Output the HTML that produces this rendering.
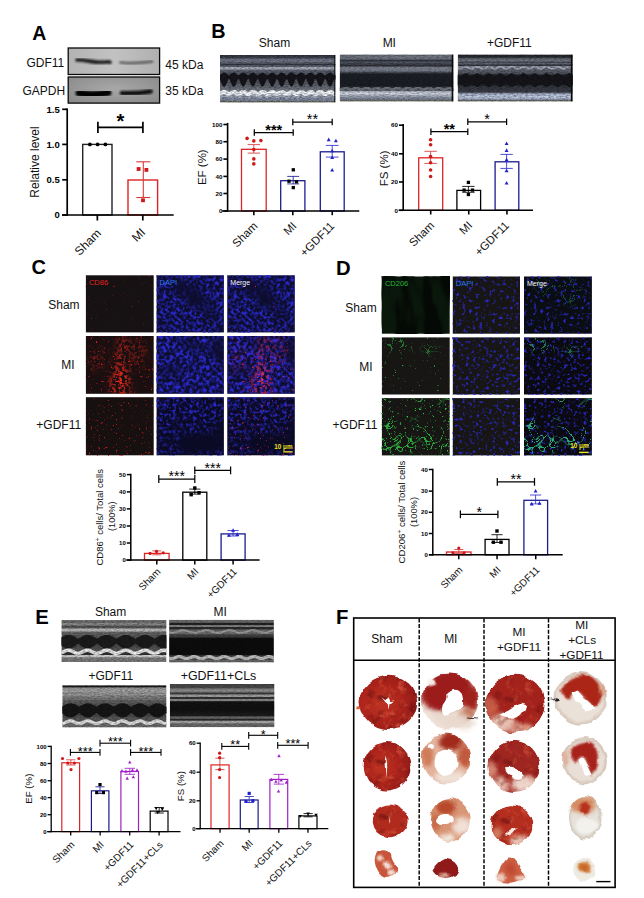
<!DOCTYPE html>
<html><head><meta charset="utf-8"><title>Figure</title>
<style>
html,body{margin:0;padding:0;background:#fff;}
body{width:644px;height:898px;overflow:hidden;font-family:"Liberation Sans", sans-serif;}
svg{display:block;font-family:"Liberation Sans", sans-serif;}
</style></head><body>
<svg width="644" height="898" viewBox="0 0 644 898">
<defs><filter id="bl1" x="-20%" y="-80%" width="140%" height="260%"><feGaussianBlur stdDeviation="1.1 0.9"/></filter><filter id="bl2" x="-20%" y="-80%" width="140%" height="260%"><feGaussianBlur stdDeviation="1.3 1.0"/></filter><linearGradient id="bg1" x1="0" x2="1"><stop offset="0" stop-color="#b3b3b3"/><stop offset=".5" stop-color="#c2c2c2"/><stop offset="1" stop-color="#b0b0b0"/></linearGradient><radialGradient id="bg2" cx=".5" cy=".45" r=".7"><stop offset="0" stop-color="#a8a8a8"/><stop offset="1" stop-color="#8a8a8a"/></radialGradient><filter id="eb" x="-5%" y="-50%" width="110%" height="200%"><feGaussianBlur stdDeviation="0.7 0.6"/></filter><filter id="en1" x="0" y="0" width="100%" height="100%" color-interpolation-filters="sRGB"><feTurbulence type="fractalNoise" baseFrequency="0.35 0.9" numOctaves="2" seed="1"/><feColorMatrix type="matrix" values="0 0 0 0 0  0 0 0 0 0  0 0 0 0 0  2.2 0 0 0 -0.75"/></filter><filter id="en2" x="0" y="0" width="100%" height="100%" color-interpolation-filters="sRGB"><feTurbulence type="fractalNoise" baseFrequency="0.35 0.9" numOctaves="2" seed="2"/><feColorMatrix type="matrix" values="0 0 0 0 0  0 0 0 0 0  0 0 0 0 0  2.2 0 0 0 -0.75"/></filter><filter id="en3" x="0" y="0" width="100%" height="100%" color-interpolation-filters="sRGB"><feTurbulence type="fractalNoise" baseFrequency="0.35 0.9" numOctaves="2" seed="3"/><feColorMatrix type="matrix" values="0 0 0 0 0  0 0 0 0 0  0 0 0 0 0  2.2 0 0 0 -0.75"/></filter><filter id="en4" x="0" y="0" width="100%" height="100%" color-interpolation-filters="sRGB"><feTurbulence type="fractalNoise" baseFrequency="0.35 0.9" numOctaves="2" seed="4"/><feColorMatrix type="matrix" values="0 0 0 0 0  0 0 0 0 0  0 0 0 0 0  2.2 0 0 0 -0.75"/></filter><filter id="en5" x="0" y="0" width="100%" height="100%" color-interpolation-filters="sRGB"><feTurbulence type="fractalNoise" baseFrequency="0.35 0.9" numOctaves="2" seed="5"/><feColorMatrix type="matrix" values="0 0 0 0 0  0 0 0 0 0  0 0 0 0 0  2.2 0 0 0 -0.75"/></filter><filter id="en6" x="0" y="0" width="100%" height="100%" color-interpolation-filters="sRGB"><feTurbulence type="fractalNoise" baseFrequency="0.35 0.9" numOctaves="2" seed="6"/><feColorMatrix type="matrix" values="0 0 0 0 0  0 0 0 0 0  0 0 0 0 0  2.2 0 0 0 -0.75"/></filter><filter id="en7" x="0" y="0" width="100%" height="100%" color-interpolation-filters="sRGB"><feTurbulence type="fractalNoise" baseFrequency="0.35 0.9" numOctaves="2" seed="7"/><feColorMatrix type="matrix" values="0 0 0 0 0  0 0 0 0 0  0 0 0 0 0  2.2 0 0 0 -0.75"/></filter><linearGradient id="eg1" x1="0" y1="0" x2="0" y2="1"><stop offset="0.000" stop-color="#30353f"/><stop offset="0.060" stop-color="#3e444f"/><stop offset="0.090" stop-color="#707686"/><stop offset="0.140" stop-color="#727888"/><stop offset="0.170" stop-color="#505562"/><stop offset="0.240" stop-color="#565c6a"/><stop offset="0.260" stop-color="#a8aebc"/><stop offset="0.290" stop-color="#a8aebc"/><stop offset="0.330" stop-color="#5a6070"/><stop offset="0.420" stop-color="#50545f"/><stop offset="0.600" stop-color="#585c66"/><stop offset="0.700" stop-color="#6a6f79"/><stop offset="0.760" stop-color="#80858f"/><stop offset="0.860" stop-color="#8890a0"/><stop offset="0.960" stop-color="#8088a0"/><stop offset="1.000" stop-color="#2a2a2a"/></linearGradient><linearGradient id="eg2" x1="0" y1="0" x2="0" y2="1"><stop offset="0.000" stop-color="#5a606c"/><stop offset="0.050" stop-color="#747a86"/><stop offset="0.100" stop-color="#6a707c"/><stop offset="0.130" stop-color="#33363f"/><stop offset="0.200" stop-color="#454955"/><stop offset="0.240" stop-color="#2e3038"/><stop offset="0.280" stop-color="#7c8290"/><stop offset="0.350" stop-color="#767c8a"/><stop offset="0.390" stop-color="#3a3d46"/><stop offset="0.420" stop-color="#1e2028"/><stop offset="0.660" stop-color="#1c1e26"/><stop offset="0.700" stop-color="#30323a"/><stop offset="0.760" stop-color="#3c3f48"/><stop offset="0.790" stop-color="#b8c0cc"/><stop offset="0.830" stop-color="#d4dae4"/><stop offset="0.880" stop-color="#a8b0c0"/><stop offset="0.930" stop-color="#7f8899"/><stop offset="0.970" stop-color="#707888"/><stop offset="1.000" stop-color="#222"/></linearGradient><linearGradient id="eg3" x1="0" y1="0" x2="0" y2="1"><stop offset="0.000" stop-color="#202228"/><stop offset="0.060" stop-color="#2c2e36"/><stop offset="0.090" stop-color="#60666f"/><stop offset="0.130" stop-color="#737986"/><stop offset="0.170" stop-color="#4a4e58"/><stop offset="0.200" stop-color="#6a7080"/><stop offset="0.230" stop-color="#24262c"/><stop offset="0.260" stop-color="#9096a4"/><stop offset="0.300" stop-color="#676d7a"/><stop offset="0.400" stop-color="#50545e"/><stop offset="0.460" stop-color="#1a1b21"/><stop offset="0.620" stop-color="#15161c"/><stop offset="0.680" stop-color="#34373f"/><stop offset="0.800" stop-color="#3c3f49"/><stop offset="0.840" stop-color="#aab6d0"/><stop offset="0.900" stop-color="#c4d0e6"/><stop offset="0.950" stop-color="#a0acc8"/><stop offset="1.000" stop-color="#222"/></linearGradient><filter id="mb" x="-30%" y="-30%" width="160%" height="160%"><feGaussianBlur stdDeviation="4"/></filter><filter id="sp1" x="0" y="0" width="100%" height="100%" color-interpolation-filters="sRGB"><feTurbulence type="fractalNoise" baseFrequency="0.4" numOctaves="2" seed="11"/><feColorMatrix type="matrix" values="0 0 0 0 0.690  0 0 0 0 0.094  0 0 0 0 0.094  7 0 0 0 -5.2"/><feGaussianBlur stdDeviation="0.3"/></filter><filter id="sp2" x="0" y="0" width="100%" height="100%" color-interpolation-filters="sRGB"><feTurbulence type="fractalNoise" baseFrequency="0.3" numOctaves="2" seed="21"/><feColorMatrix type="matrix" values="0 0 0 0 0.165  0 0 0 0 0.165  0 0 0 0 0.816  3.1 0 0 0 -1.28" result="f"/><feTurbulence type="fractalNoise" baseFrequency="0.035" numOctaves="2" seed="3"/><feColorMatrix type="matrix" values="0 0 0 0 1  0 0 0 0 1  0 0 0 0 1  3.0 0 0 0 -0.7" result="m"/><feComposite in="f" in2="m" operator="in"/><feGaussianBlur stdDeviation="0.5"/></filter><filter id="sp3" x="0" y="0" width="100%" height="100%" color-interpolation-filters="sRGB"><feTurbulence type="fractalNoise" baseFrequency="0.3" numOctaves="2" seed="21"/><feColorMatrix type="matrix" values="0 0 0 0 0.165  0 0 0 0 0.165  0 0 0 0 0.816  3.1 0 0 0 -1.28" result="f"/><feTurbulence type="fractalNoise" baseFrequency="0.035" numOctaves="2" seed="3"/><feColorMatrix type="matrix" values="0 0 0 0 1  0 0 0 0 1  0 0 0 0 1  3.0 0 0 0 -0.7" result="m"/><feComposite in="f" in2="m" operator="in"/><feGaussianBlur stdDeviation="0.5"/></filter><filter id="sp4" x="0" y="0" width="100%" height="100%" color-interpolation-filters="sRGB"><feTurbulence type="fractalNoise" baseFrequency="0.4" numOctaves="2" seed="11"/><feColorMatrix type="matrix" values="0 0 0 0 0.753  0 0 0 0 0.125  0 0 0 0 0.251  7 0 0 0 -5.4"/><feGaussianBlur stdDeviation="0.3"/></filter><mask id="mm1" maskUnits="userSpaceOnUse" x="0" y="0" width="67.8" height="57.8"><rect width="67.8" height="57.8" fill="#000"/><g filter="url(#mb)"><path d="M33.9 0.0 L42.036 0.0 L40.68 26.009999999999998 L44.748 57.8 L24.407999999999998 57.8 L28.476 31.790000000000003Z" fill="#aaa"/><ellipse cx="33.9" cy="46.24" rx="8.814" ry="13.871999999999998" fill="#fff"/><ellipse cx="10.847999999999999" cy="23.12" rx="6.78" ry="12.716" fill="#555"/><ellipse cx="52.884" cy="17.34" rx="6.78" ry="14.45" fill="#666"/></g></mask><filter id="sp5" x="0" y="0" width="100%" height="100%" color-interpolation-filters="sRGB"><feTurbulence type="fractalNoise" baseFrequency="0.4" numOctaves="2" seed="12"/><feColorMatrix type="matrix" values="0 0 0 0 0.816  0 0 0 0 0.110  0 0 0 0 0.110  7 0 0 0 -4.75"/><feGaussianBlur stdDeviation="0.3"/></filter><filter id="sp6" x="0" y="0" width="100%" height="100%" color-interpolation-filters="sRGB"><feTurbulence type="fractalNoise" baseFrequency="0.3" numOctaves="2" seed="13"/><feColorMatrix type="matrix" values="0 0 0 0 0.933  0 0 0 0 0.165  0 0 0 0 0.118  6 0 0 0 -2.65"/><feGaussianBlur stdDeviation="0.25"/></filter><filter id="sp7" x="0" y="0" width="100%" height="100%" color-interpolation-filters="sRGB"><feTurbulence type="fractalNoise" baseFrequency="0.3" numOctaves="2" seed="22"/><feColorMatrix type="matrix" values="0 0 0 0 0.165  0 0 0 0 0.165  0 0 0 0 0.816  3.1 0 0 0 -1.2" result="f"/><feTurbulence type="fractalNoise" baseFrequency="0.035" numOctaves="2" seed="4"/><feColorMatrix type="matrix" values="0 0 0 0 1  0 0 0 0 1  0 0 0 0 1  3.0 0 0 0 -0.55" result="m"/><feComposite in="f" in2="m" operator="in"/><feGaussianBlur stdDeviation="0.5"/></filter><mask id="mm2" maskUnits="userSpaceOnUse" x="0" y="0" width="67.5" height="57.8"><rect width="67.5" height="57.8" fill="#000"/><g filter="url(#mb)"><path d="M33.75 0.0 L41.85 0.0 L40.5 26.009999999999998 L44.550000000000004 57.8 L24.3 57.8 L28.349999999999998 31.790000000000003Z" fill="#aaa"/><ellipse cx="33.75" cy="46.24" rx="8.775" ry="13.871999999999998" fill="#fff"/><ellipse cx="10.8" cy="23.12" rx="6.75" ry="12.716" fill="#555"/><ellipse cx="52.65" cy="17.34" rx="6.75" ry="14.45" fill="#666"/></g></mask><filter id="sp8" x="0" y="0" width="100%" height="100%" color-interpolation-filters="sRGB"><feTurbulence type="fractalNoise" baseFrequency="0.3" numOctaves="2" seed="22"/><feColorMatrix type="matrix" values="0 0 0 0 0.165  0 0 0 0 0.165  0 0 0 0 0.816  3.1 0 0 0 -1.2" result="f"/><feTurbulence type="fractalNoise" baseFrequency="0.035" numOctaves="2" seed="4"/><feColorMatrix type="matrix" values="0 0 0 0 1  0 0 0 0 1  0 0 0 0 1  3.0 0 0 0 -0.55" result="m"/><feComposite in="f" in2="m" operator="in"/><feGaussianBlur stdDeviation="0.5"/></filter><filter id="sp9" x="0" y="0" width="100%" height="100%" color-interpolation-filters="sRGB"><feTurbulence type="fractalNoise" baseFrequency="0.4" numOctaves="2" seed="12"/><feColorMatrix type="matrix" values="0 0 0 0 0.816  0 0 0 0 0.125  0 0 0 0 0.314  7 0 0 0 -4.9"/><feGaussianBlur stdDeviation="0.3"/></filter><filter id="sp10" x="0" y="0" width="100%" height="100%" color-interpolation-filters="sRGB"><feTurbulence type="fractalNoise" baseFrequency="0.3" numOctaves="2" seed="13"/><feColorMatrix type="matrix" values="0 0 0 0 0.886  0 0 0 0 0.173  0 0 0 0 0.361  6 0 0 0 -2.8"/><feGaussianBlur stdDeviation="0.25"/></filter><filter id="sp11" x="0" y="0" width="100%" height="100%" color-interpolation-filters="sRGB"><feTurbulence type="fractalNoise" baseFrequency="0.4" numOctaves="2" seed="14"/><feColorMatrix type="matrix" values="0 0 0 0 0.784  0 0 0 0 0.110  0 0 0 0 0.110  7 0 0 0 -4.7"/><feGaussianBlur stdDeviation="0.3"/></filter><filter id="sp12" x="0" y="0" width="100%" height="100%" color-interpolation-filters="sRGB"><feTurbulence type="fractalNoise" baseFrequency="0.3" numOctaves="2" seed="23"/><feColorMatrix type="matrix" values="0 0 0 0 0.165  0 0 0 0 0.165  0 0 0 0 0.816  3.1 0 0 0 -1.4" result="f"/><feTurbulence type="fractalNoise" baseFrequency="0.035" numOctaves="2" seed="5"/><feColorMatrix type="matrix" values="0 0 0 0 1  0 0 0 0 1  0 0 0 0 1  3.0 0 0 0 -0.8" result="m"/><feComposite in="f" in2="m" operator="in"/><feGaussianBlur stdDeviation="0.5"/></filter><filter id="sp13" x="0" y="0" width="100%" height="100%" color-interpolation-filters="sRGB"><feTurbulence type="fractalNoise" baseFrequency="0.3" numOctaves="2" seed="23"/><feColorMatrix type="matrix" values="0 0 0 0 0.165  0 0 0 0 0.165  0 0 0 0 0.816  3.1 0 0 0 -1.4" result="f"/><feTurbulence type="fractalNoise" baseFrequency="0.035" numOctaves="2" seed="5"/><feColorMatrix type="matrix" values="0 0 0 0 1  0 0 0 0 1  0 0 0 0 1  3.0 0 0 0 -0.8" result="m"/><feComposite in="f" in2="m" operator="in"/><feGaussianBlur stdDeviation="0.5"/></filter><filter id="sp14" x="0" y="0" width="100%" height="100%" color-interpolation-filters="sRGB"><feTurbulence type="fractalNoise" baseFrequency="0.4" numOctaves="2" seed="14"/><feColorMatrix type="matrix" values="0 0 0 0 0.816  0 0 0 0 0.125  0 0 0 0 0.282  7 0 0 0 -4.8"/><feGaussianBlur stdDeviation="0.3"/></filter><filter id="sp15" x="0" y="0" width="100%" height="100%" color-interpolation-filters="sRGB"><feTurbulence type="fractalNoise" baseFrequency="0.07 0.025" numOctaves="2" seed="31"/><feColorMatrix type="matrix" values="0 0 0 0 0.020  0 0 0 0 0.035  0 0 0 0 0.020  5 0 0 0 -2.0"/><feGaussianBlur stdDeviation="0.6"/></filter><filter id="sp16" x="0" y="0" width="100%" height="100%" color-interpolation-filters="sRGB"><feTurbulence type="fractalNoise" baseFrequency="0.3" numOctaves="2" seed="41"/><feColorMatrix type="matrix" values="0 0 0 0 0.165  0 0 0 0 0.165  0 0 0 0 0.800  4.2 0 0 0 -2.3699999999999997"/><feGaussianBlur stdDeviation="0.45"/></filter><filter id="sp17" x="0" y="0" width="100%" height="100%" color-interpolation-filters="sRGB"><feTurbulence type="fractalNoise" baseFrequency="0.3" numOctaves="2" seed="41"/><feColorMatrix type="matrix" values="0 0 0 0 0.165  0 0 0 0 0.165  0 0 0 0 0.800  4.2 0 0 0 -2.3699999999999997"/><feGaussianBlur stdDeviation="0.45"/></filter><filter id="fl18" x="0" y="0" width="100%" height="100%" color-interpolation-filters="sRGB"><feTurbulence type="turbulence" baseFrequency="0.1" numOctaves="1" seed="35"/><feColorMatrix type="matrix" values="0 0 0 0 0.188  0 0 0 0 0.784  0 0 0 0 0.471  -16 0 0 0 0.6" result="f"/><feTurbulence type="fractalNoise" baseFrequency="0.035" numOctaves="2" seed="8"/><feColorMatrix type="matrix" values="0 0 0 0 1  0 0 0 0 1  0 0 0 0 1  7 0 0 0 -4.0" result="m"/><feComposite in="f" in2="m" operator="in"/><feGaussianBlur stdDeviation="0.3"/></filter><filter id="fl19" x="0" y="0" width="100%" height="100%" color-interpolation-filters="sRGB"><feTurbulence type="turbulence" baseFrequency="0.1" numOctaves="1" seed="32"/><feColorMatrix type="matrix" values="0 0 0 0 0.180  0 0 0 0 0.816  0 0 0 0 0.282  -16 0 0 0 0.5" result="f"/><feTurbulence type="fractalNoise" baseFrequency="0.035" numOctaves="2" seed="5"/><feColorMatrix type="matrix" values="0 0 0 0 1  0 0 0 0 1  0 0 0 0 1  7 0 0 0 -4.45" result="m"/><feComposite in="f" in2="m" operator="in"/><feGaussianBlur stdDeviation="0.3"/></filter><filter id="sp20" x="0" y="0" width="100%" height="100%" color-interpolation-filters="sRGB"><feTurbulence type="fractalNoise" baseFrequency="0.4" numOctaves="2" seed="36"/><feColorMatrix type="matrix" values="0 0 0 0 0.173  0 0 0 0 0.722  0 0 0 0 0.251  8 0 0 0 -5.85"/><feGaussianBlur stdDeviation="0.3"/></filter><filter id="sp21" x="0" y="0" width="100%" height="100%" color-interpolation-filters="sRGB"><feTurbulence type="fractalNoise" baseFrequency="0.3" numOctaves="2" seed="42"/><feColorMatrix type="matrix" values="0 0 0 0 0.165  0 0 0 0 0.165  0 0 0 0 0.800  4.2 0 0 0 -2.27"/><feGaussianBlur stdDeviation="0.45"/></filter><filter id="sp22" x="0" y="0" width="100%" height="100%" color-interpolation-filters="sRGB"><feTurbulence type="fractalNoise" baseFrequency="0.3" numOctaves="2" seed="42"/><feColorMatrix type="matrix" values="0 0 0 0 0.165  0 0 0 0 0.165  0 0 0 0 0.800  4.2 0 0 0 -2.27"/><feGaussianBlur stdDeviation="0.45"/></filter><filter id="fl23" x="0" y="0" width="100%" height="100%" color-interpolation-filters="sRGB"><feTurbulence type="turbulence" baseFrequency="0.1" numOctaves="1" seed="32"/><feColorMatrix type="matrix" values="0 0 0 0 0.204  0 0 0 0 0.847  0 0 0 0 0.502  -16 0 0 0 0.5" result="f"/><feTurbulence type="fractalNoise" baseFrequency="0.035" numOctaves="2" seed="5"/><feColorMatrix type="matrix" values="0 0 0 0 1  0 0 0 0 1  0 0 0 0 1  7 0 0 0 -4.45" result="m"/><feComposite in="f" in2="m" operator="in"/><feGaussianBlur stdDeviation="0.3"/></filter><filter id="fl24" x="0" y="0" width="100%" height="100%" color-interpolation-filters="sRGB"><feTurbulence type="turbulence" baseFrequency="0.1" numOctaves="1" seed="33"/><feColorMatrix type="matrix" values="0 0 0 0 0.204  0 0 0 0 0.863  0 0 0 0 0.298  -14 0 0 0 0.72" result="f"/><feTurbulence type="fractalNoise" baseFrequency="0.035" numOctaves="2" seed="2"/><feColorMatrix type="matrix" values="0 0 0 0 1  0 0 0 0 1  0 0 0 0 1  7 0 0 0 -3.5" result="m"/><feComposite in="f" in2="m" operator="in"/><feGaussianBlur stdDeviation="0.3"/></filter><filter id="sp25" x="0" y="0" width="100%" height="100%" color-interpolation-filters="sRGB"><feTurbulence type="fractalNoise" baseFrequency="0.4" numOctaves="2" seed="37"/><feColorMatrix type="matrix" values="0 0 0 0 0.173  0 0 0 0 0.753  0 0 0 0 0.251  8 0 0 0 -5.3"/><feGaussianBlur stdDeviation="0.3"/></filter><filter id="sp26" x="0" y="0" width="100%" height="100%" color-interpolation-filters="sRGB"><feTurbulence type="fractalNoise" baseFrequency="0.3" numOctaves="2" seed="43"/><feColorMatrix type="matrix" values="0 0 0 0 0.165  0 0 0 0 0.165  0 0 0 0 0.800  4.2 0 0 0 -2.32"/><feGaussianBlur stdDeviation="0.45"/></filter><filter id="sp27" x="0" y="0" width="100%" height="100%" color-interpolation-filters="sRGB"><feTurbulence type="fractalNoise" baseFrequency="0.3" numOctaves="2" seed="43"/><feColorMatrix type="matrix" values="0 0 0 0 0.165  0 0 0 0 0.165  0 0 0 0 0.800  4.2 0 0 0 -2.32"/><feGaussianBlur stdDeviation="0.45"/></filter><filter id="fl28" x="0" y="0" width="100%" height="100%" color-interpolation-filters="sRGB"><feTurbulence type="turbulence" baseFrequency="0.1" numOctaves="1" seed="33"/><feColorMatrix type="matrix" values="0 0 0 0 0.235  0 0 0 0 0.894  0 0 0 0 0.627  -14 0 0 0 0.72" result="f"/><feTurbulence type="fractalNoise" baseFrequency="0.035" numOctaves="2" seed="2"/><feColorMatrix type="matrix" values="0 0 0 0 1  0 0 0 0 1  0 0 0 0 1  7 0 0 0 -3.5" result="m"/><feComposite in="f" in2="m" operator="in"/><feGaussianBlur stdDeviation="0.3"/></filter><linearGradient id="eg4" x1="0" y1="0" x2="0" y2="1"><stop offset="0.000" stop-color="#6a6a6a"/><stop offset="0.060" stop-color="#707070"/><stop offset="0.080" stop-color="#8c8c8c"/><stop offset="0.120" stop-color="#8a8a8a"/><stop offset="0.140" stop-color="#505050"/><stop offset="0.190" stop-color="#5a5a5a"/><stop offset="0.210" stop-color="#c0c0c0"/><stop offset="0.260" stop-color="#bcbcbc"/><stop offset="0.290" stop-color="#686868"/><stop offset="0.360" stop-color="#5c5c5c"/><stop offset="0.500" stop-color="#444"/><stop offset="0.660" stop-color="#505050"/><stop offset="0.710" stop-color="#585858"/><stop offset="0.790" stop-color="#333"/><stop offset="0.830" stop-color="#333"/><stop offset="0.845" stop-color="#d0d0d0"/><stop offset="0.875" stop-color="#cccccc"/><stop offset="0.900" stop-color="#808080"/><stop offset="1.000" stop-color="#7a7a7a"/></linearGradient><linearGradient id="eg5" x1="0" y1="0" x2="0" y2="1"><stop offset="0.000" stop-color="#6e6e6e"/><stop offset="0.060" stop-color="#6a6a6a"/><stop offset="0.080" stop-color="#222"/><stop offset="0.125" stop-color="#242424"/><stop offset="0.135" stop-color="#8a8a8a"/><stop offset="0.165" stop-color="#868686"/><stop offset="0.180" stop-color="#2a2a2a"/><stop offset="0.210" stop-color="#2c2c2c"/><stop offset="0.240" stop-color="#6a6a6a"/><stop offset="0.320" stop-color="#6c6c6c"/><stop offset="0.350" stop-color="#444"/><stop offset="0.400" stop-color="#3a3a3a"/><stop offset="0.440" stop-color="#0d0d0d"/><stop offset="0.810" stop-color="#0c0c0c"/><stop offset="0.840" stop-color="#3a3a3a"/><stop offset="0.930" stop-color="#4a4a4a"/><stop offset="0.950" stop-color="#6a6a6a"/><stop offset="1.000" stop-color="#606060"/></linearGradient><linearGradient id="eg6" x1="0" y1="0" x2="0" y2="1"><stop offset="0.000" stop-color="#1a1a1a"/><stop offset="0.045" stop-color="#1c1c1c"/><stop offset="0.060" stop-color="#9a9a9a"/><stop offset="0.140" stop-color="#a6a6a6"/><stop offset="0.230" stop-color="#9a9a9a"/><stop offset="0.260" stop-color="#848484"/><stop offset="0.330" stop-color="#808080"/><stop offset="0.360" stop-color="#626262"/><stop offset="0.430" stop-color="#5a5a5a"/><stop offset="0.550" stop-color="#3a3a3a"/><stop offset="0.720" stop-color="#4a4a4a"/><stop offset="0.780" stop-color="#585858"/><stop offset="0.830" stop-color="#555"/><stop offset="0.930" stop-color="#6c6c6c"/><stop offset="1.000" stop-color="#707070"/></linearGradient><linearGradient id="eg7" x1="0" y1="0" x2="0" y2="1"><stop offset="0.000" stop-color="#484848"/><stop offset="0.090" stop-color="#4a4a4a"/><stop offset="0.110" stop-color="#7c7c7c"/><stop offset="0.150" stop-color="#909090"/><stop offset="0.190" stop-color="#7a7a7a"/><stop offset="0.205" stop-color="#3a3a3a"/><stop offset="0.235" stop-color="#3a3a3a"/><stop offset="0.250" stop-color="#a0a0a0"/><stop offset="0.295" stop-color="#9c9c9c"/><stop offset="0.310" stop-color="#333"/><stop offset="0.340" stop-color="#333"/><stop offset="0.355" stop-color="#8a8a8a"/><stop offset="0.385" stop-color="#868686"/><stop offset="0.410" stop-color="#131313"/><stop offset="0.600" stop-color="#111"/><stop offset="0.740" stop-color="#1e1e1e"/><stop offset="0.760" stop-color="#6c6c6c"/><stop offset="0.795" stop-color="#6a6a6a"/><stop offset="0.810" stop-color="#2a2a2a"/><stop offset="0.840" stop-color="#2a2a2a"/><stop offset="0.855" stop-color="#a8a8a8"/><stop offset="0.900" stop-color="#a4a4a4"/><stop offset="0.920" stop-color="#6a6a6a"/><stop offset="1.000" stop-color="#666"/></linearGradient><filter id="hd" x="-15%" y="-15%" width="130%" height="130%" color-interpolation-filters="sRGB"><feTurbulence type="fractalNoise" baseFrequency="0.09" numOctaves="2" seed="3" result="n"/><feDisplacementMap in="SourceGraphic" in2="n" scale="5" xChannelSelector="R" yChannelSelector="G"/><feGaussianBlur stdDeviation="0.7"/></filter><filter id="hb" x="-30%" y="-30%" width="160%" height="160%"><feGaussianBlur stdDeviation="2.2"/></filter><filter id="hb1" x="-30%" y="-30%" width="160%" height="160%"><feGaussianBlur stdDeviation="1.1"/></filter><filter id="ht" x="0" y="0" width="100%" height="100%" color-interpolation-filters="sRGB"><feTurbulence type="fractalNoise" baseFrequency="0.11" numOctaves="3" seed="9"/><feColorMatrix type="matrix" values="0 0 0 0 .93  0 0 0 0 .42  0 0 0 0 .28  4.2 0 0 0 -2.3"/><feComposite in2="SourceGraphic" operator="in"/></filter><filter id="hs" x="0" y="0" width="100%" height="100%" color-interpolation-filters="sRGB"><feTurbulence type="fractalNoise" baseFrequency="0.09" numOctaves="3" seed="4"/><feColorMatrix type="matrix" values="0 0 0 0 .40  0 0 0 0 .06  0 0 0 0 .06  -4.2 0 0 0 1.9"/><feComposite in2="SourceGraphic" operator="in"/></filter><radialGradient id="hr1" cx=".38" cy=".5" r=".65"><stop offset="0" stop-color="#c03422"/><stop offset=".55" stop-color="#ab231b"/><stop offset="1" stop-color="#8e1a18"/></radialGradient><radialGradient id="hr2" cx=".5" cy=".5" r=".6"><stop offset="0" stop-color="#c64a34"/><stop offset="1" stop-color="#b8331f"/></radialGradient></defs>
<rect width="644" height="898" fill="#fff"/>
<text x="32.2" y="40" font-size="19.5" text-anchor="start" font-weight="bold" fill="#000">A</text>
<text x="211.2" y="38.3" font-size="19.8" text-anchor="start" font-weight="bold" fill="#000">B</text>
<text x="31.5" y="274" font-size="20" text-anchor="start" font-weight="bold" fill="#000">C</text>
<text x="335.9" y="275.4" font-size="20.3" text-anchor="start" font-weight="bold" fill="#000">D</text>
<text x="35.3" y="623.9" font-size="20.3" text-anchor="start" font-weight="bold" fill="#000">E</text>
<text x="336.1" y="623.9" font-size="20.3" text-anchor="start" font-weight="bold" fill="#000">F</text>
<text x="64.3" y="67.1" font-size="12" text-anchor="end" font-weight="normal" fill="#111">GDF11</text>
<text x="65.2" y="95.3" font-size="12" text-anchor="end" font-weight="normal" fill="#111">GAPDH</text>
<text x="165.3" y="69" font-size="12" text-anchor="start" font-weight="normal" fill="#111">45 kDa</text>
<text x="165.3" y="94.5" font-size="12" text-anchor="start" font-weight="normal" fill="#111">35 kDa</text>
<rect x="68.2" y="48" width="91.4" height="26.5" fill="url(#bg1)"/><rect x="68.2" y="77" width="91.4" height="26.1" fill="url(#bg2)"/><clipPath id="cb1"><rect x="68.2" y="48" width="91.4" height="26.5"/></clipPath><clipPath id="cb2"><rect x="68.2" y="77" width="91.4" height="26.1"/></clipPath><g clip-path="url(#cb1)"><path d="M77 60 C85 59.5 92 62.5 100 62.3 S108 61.5 110 62.2" stroke="#1c1c1c" stroke-width="3.6" stroke-linecap="round" fill="none" filter="url(#bl1)"/><path d="M120.5 62.5 C130 63.5 142 63 152 61.6" stroke="#5e5e5e" stroke-width="2.6" stroke-linecap="round" fill="none" filter="url(#bl1)"/></g><g clip-path="url(#cb2)"><path d="M79 93 C88 95 100 94.5 108 92.5" stroke="#050505" stroke-width="7.0" stroke-linecap="round" fill="none" filter="url(#bl2)"/><path d="M122 93.2 C132 93.6 142 92.8 150.5 91.4" stroke="#0c0c0c" stroke-width="4.6" stroke-linecap="round" fill="none" filter="url(#bl2)"/></g><rect x="68.2" y="48" width="91.4" height="26.5" fill="none" stroke="#0a0a0a" stroke-width="1.3"/><rect x="68.2" y="77" width="91.4" height="26.1" fill="none" stroke="#0a0a0a" stroke-width="1.3"/>
<rect x="82.70" y="144.40" width="29.30" height="70.60" fill="#fff" stroke="#222" stroke-width="1.4"/>
<rect x="128.00" y="180.00" width="29.60" height="35.00" fill="#fff" stroke="#dc2424" stroke-width="1.4"/>
<line x1="67.20" y1="108.45" x2="67.20" y2="215.85" stroke="#000" stroke-width="1.7"/>
<line x1="62.00" y1="215.00" x2="173.70" y2="215.00" stroke="#000" stroke-width="1.7"/>
<line x1="62.20" y1="109.30" x2="67.20" y2="109.30" stroke="#000" stroke-width="1.7"/>
<text x="59.7" y="112.72" font-size="9.5" text-anchor="end" font-weight="bold" fill="#000">1.5</text>
<line x1="62.20" y1="144.40" x2="67.20" y2="144.40" stroke="#000" stroke-width="1.7"/>
<text x="59.7" y="147.82" font-size="9.5" text-anchor="end" font-weight="bold" fill="#000">1.0</text>
<line x1="62.20" y1="179.80" x2="67.20" y2="179.80" stroke="#000" stroke-width="1.7"/>
<text x="59.7" y="183.22" font-size="9.5" text-anchor="end" font-weight="bold" fill="#000">0.5</text>
<line x1="62.20" y1="215.00" x2="67.20" y2="215.00" stroke="#000" stroke-width="1.7"/>
<text x="59.7" y="218.42" font-size="9.5" text-anchor="end" font-weight="bold" fill="#000">0</text>
<line x1="97.35" y1="215.00" x2="97.35" y2="220.50" stroke="#000" stroke-width="1.7"/>
<circle cx="89.90" cy="144.40" r="1.90" fill="#000"/>
<circle cx="97.60" cy="144.40" r="1.90" fill="#000"/>
<circle cx="105.40" cy="144.40" r="1.90" fill="#000"/>
<text x="101.75" y="234" font-size="12" text-anchor="end" font-weight="normal" fill="#111" transform="rotate(-45 101.75 234)">Sham</text>
<line x1="142.80" y1="215.00" x2="142.80" y2="220.50" stroke="#000" stroke-width="1.7"/>
<line x1="143.30" y1="161.80" x2="143.30" y2="197.50" stroke="#d43a3a" stroke-width="1.1"/>
<line x1="136.30" y1="161.80" x2="150.30" y2="161.80" stroke="#d43a3a" stroke-width="1.1"/>
<line x1="136.30" y1="197.50" x2="150.30" y2="197.50" stroke="#d43a3a" stroke-width="1.1"/>
<rect x="136.70" y="167.10" width="3.80" height="3.80" fill="#cf1818"/>
<rect x="144.50" y="168.00" width="3.80" height="3.80" fill="#cf1818"/>
<rect x="141.10" y="198.40" width="3.80" height="3.80" fill="#cf1818"/>
<text x="146.20000000000002" y="233" font-size="12" text-anchor="end" font-weight="normal" fill="#111" transform="rotate(-45 146.20000000000002 233)">MI</text>
<text x="39" y="162" font-size="12" text-anchor="middle" font-weight="normal" fill="#111" transform="rotate(-90 39 162)">Relative level</text>
<line x1="97.90" y1="127.40" x2="142.90" y2="127.40" stroke="#000" stroke-width="1.7"/>
<line x1="97.90" y1="121.70" x2="97.90" y2="133.10" stroke="#000" stroke-width="1.7"/>
<line x1="142.90" y1="121.70" x2="142.90" y2="133.10" stroke="#000" stroke-width="1.7"/>
<text x="120.4" y="128.3" font-size="20" text-anchor="middle" font-weight="bold" fill="#000">*</text>
<text x="274.5" y="47.1" font-size="12" text-anchor="middle" font-weight="normal" fill="#111">Sham</text>
<text x="389.3" y="47.1" font-size="12" text-anchor="middle" font-weight="normal" fill="#111">MI</text>
<text x="509.4" y="47.1" font-size="12" text-anchor="middle" font-weight="normal" fill="#111">+GDF11</text>
<clipPath id="ec1"><rect x="220" y="55" width="115.5" height="47.5"/></clipPath><g clip-path="url(#ec1)"><rect x="220" y="55" width="115.5" height="47.5" fill="url(#eg1)"/><path d="M218.0 74.6 L219.0 75.3 L220.0 74.9 L221.0 74.1 L222.0 73.4 L223.0 72.8 L224.0 72.6 L225.0 72.8 L226.0 73.3 L227.0 74.1 L228.0 74.9 L229.0 75.3 L230.0 74.6 L231.0 73.8 L232.0 73.1 L233.0 72.7 L234.0 72.6 L235.0 72.9 L236.0 73.6 L237.0 74.4 L238.0 75.1 L239.0 75.1 L240.0 74.3 L241.0 73.5 L242.0 72.9 L243.0 72.6 L244.0 72.7 L245.0 73.1 L246.0 73.8 L247.0 74.7 L248.0 75.4 L249.0 74.8 L250.0 74.0 L251.0 73.3 L252.0 72.8 L253.0 72.6 L254.0 72.8 L255.0 73.4 L256.0 74.2 L257.0 75.0 L258.0 75.3 L259.0 74.5 L260.0 73.7 L261.0 73.0 L262.0 72.7 L263.0 72.6 L264.0 73.0 L265.0 73.7 L266.0 74.5 L267.0 75.2 L268.0 75.0 L269.0 74.2 L270.0 73.4 L271.0 72.9 L272.0 72.6 L273.0 72.7 L274.0 73.2 L275.0 73.9 L276.0 74.8 L277.0 75.4 L278.0 74.7 L279.0 73.9 L280.0 73.2 L281.0 72.7 L282.0 72.6 L283.0 72.9 L284.0 73.5 L285.0 74.3 L286.0 75.1 L287.0 75.2 L288.0 74.4 L289.0 73.6 L290.0 73.0 L291.0 72.6 L292.0 72.7 L293.0 73.1 L294.0 73.7 L295.0 74.6 L296.0 75.3 L297.0 74.9 L298.0 74.1 L299.0 73.4 L300.0 72.8 L301.0 72.6 L302.0 72.8 L303.0 73.3 L304.0 74.1 L305.0 74.9 L306.0 75.3 L307.0 74.6 L308.0 73.8 L309.0 73.1 L310.0 72.7 L311.0 72.6 L312.0 72.9 L313.0 73.6 L314.0 74.4 L315.0 75.1 L316.0 75.1 L317.0 74.3 L318.0 73.5 L319.0 72.9 L320.0 72.6 L321.0 72.7 L322.0 73.1 L323.0 73.8 L324.0 74.7 L325.0 75.4 L326.0 74.8 L327.0 74.0 L328.0 73.3 L329.0 72.8 L330.0 72.6 L331.0 72.8 L332.0 73.4 L333.0 74.2 L334.0 75.0 L335.0 75.3 L336.0 74.5 L337.0 73.7 L337.0 83.4 L336.0 80.9 L335.0 78.7 L334.0 79.6 L333.0 82.1 L332.0 84.4 L331.0 86.1 L330.0 86.7 L329.0 86.3 L328.0 84.7 L327.0 82.5 L326.0 80.0 L325.0 78.5 L324.0 80.5 L323.0 83.0 L322.0 85.1 L321.0 86.5 L320.0 86.7 L319.0 85.8 L318.0 83.9 L317.0 81.5 L316.0 79.2 L315.0 79.1 L314.0 81.5 L313.0 83.9 L312.0 85.8 L311.0 86.7 L310.0 86.5 L309.0 85.2 L308.0 83.1 L307.0 80.6 L306.0 78.5 L305.0 79.9 L304.0 82.4 L303.0 84.7 L302.0 86.2 L301.0 86.7 L300.0 86.1 L299.0 84.5 L298.0 82.2 L297.0 79.7 L296.0 78.6 L295.0 80.8 L294.0 83.3 L293.0 85.4 L292.0 86.6 L291.0 86.6 L290.0 85.6 L289.0 83.7 L288.0 81.2 L287.0 78.9 L286.0 79.4 L285.0 81.8 L284.0 84.2 L283.0 85.9 L282.0 86.7 L281.0 86.4 L280.0 85.0 L279.0 82.8 L278.0 80.3 L277.0 78.4 L276.0 80.2 L275.0 82.7 L274.0 84.9 L273.0 86.4 L272.0 86.7 L271.0 86.0 L270.0 84.2 L269.0 81.9 L268.0 79.4 L267.0 78.9 L266.0 81.1 L265.0 83.6 L264.0 85.6 L263.0 86.6 L262.0 86.6 L261.0 85.4 L260.0 83.4 L259.0 80.9 L258.0 78.7 L257.0 79.6 L256.0 82.1 L255.0 84.4 L254.0 86.1 L253.0 86.7 L252.0 86.3 L251.0 84.7 L250.0 82.5 L249.0 80.0 L248.0 78.5 L247.0 80.5 L246.0 83.0 L245.0 85.1 L244.0 86.5 L243.0 86.7 L242.0 85.8 L241.0 83.9 L240.0 81.5 L239.0 79.2 L238.0 79.1 L237.0 81.5 L236.0 83.9 L235.0 85.8 L234.0 86.7 L233.0 86.5 L232.0 85.2 L231.0 83.1 L230.0 80.6 L229.0 78.5 L228.0 79.9 L227.0 82.4 L226.0 84.7 L225.0 86.2 L224.0 86.7 L223.0 86.1 L222.0 84.5 L221.0 82.2 L220.0 79.7 L219.0 78.6 L218.0 80.8Z" fill="#17191f" filter="url(#eb)"/><rect x="220" y="64.03" width="115.5" height="0.95" fill="#2a2d36" opacity="0.7"/><path d="M218.0 93.7 L219.0 94.1 L220.0 94.0 L221.0 93.5 L222.0 92.8 L223.0 92.2 L224.0 91.9 L225.0 92.1 L226.0 92.6 L227.0 93.3 L228.0 93.9 L229.0 94.1 L230.0 93.9 L231.0 93.3 L232.0 92.6 L233.0 92.0 L234.0 91.9 L235.0 92.2 L236.0 92.9 L237.0 93.6 L238.0 94.0 L239.0 94.1 L240.0 93.7 L241.0 93.0 L242.0 92.3 L243.0 91.9 L244.0 92.0 L245.0 92.4 L246.0 93.1 L247.0 93.8 L248.0 94.1 L249.0 94.0 L250.0 93.4 L251.0 92.7 L252.0 92.1 L253.0 91.9 L254.0 92.1 L255.0 92.7 L256.0 93.4 L257.0 93.9 L258.0 94.1 L259.0 93.8 L260.0 93.2 L261.0 92.5 L262.0 92.0 L263.0 91.9 L264.0 92.3 L265.0 93.0 L266.0 93.6 L267.0 94.0 L268.0 94.0 L269.0 93.6 L270.0 92.9 L271.0 92.3 L272.0 91.9 L273.0 92.0 L274.0 92.5 L275.0 93.2 L276.0 93.8 L277.0 94.1 L278.0 93.9 L279.0 93.4 L280.0 92.6 L281.0 92.1 L282.0 91.9 L283.0 92.2 L284.0 92.8 L285.0 93.5 L286.0 94.0 L287.0 94.1 L288.0 93.7 L289.0 93.1 L290.0 92.4 L291.0 92.0 L292.0 92.0 L293.0 92.4 L294.0 93.0 L295.0 93.7 L296.0 94.1 L297.0 94.0 L298.0 93.5 L299.0 92.8 L300.0 92.2 L301.0 91.9 L302.0 92.1 L303.0 92.6 L304.0 93.3 L305.0 93.9 L306.0 94.1 L307.0 93.9 L308.0 93.3 L309.0 92.6 L310.0 92.0 L311.0 91.9 L312.0 92.2 L313.0 92.9 L314.0 93.6 L315.0 94.0 L316.0 94.1 L317.0 93.7 L318.0 93.0 L319.0 92.3 L320.0 91.9 L321.0 92.0 L322.0 92.4 L323.0 93.1 L324.0 93.8 L325.0 94.1 L326.0 94.0 L327.0 93.4 L328.0 92.7 L329.0 92.1 L330.0 91.9 L331.0 92.1 L332.0 92.7 L333.0 93.4 L334.0 93.9 L335.0 94.1 L336.0 93.8 L337.0 93.2" fill="none" stroke="#f4f7fc" stroke-width="4.04" filter="url(#eb)" opacity="1"/><path d="M218.0 97.0 L219.0 97.3 L220.0 97.2 L221.0 96.8 L222.0 96.2 L223.0 95.6 L224.0 95.3 L225.0 95.5 L226.0 96.0 L227.0 96.6 L228.0 97.1 L229.0 97.3 L230.0 97.1 L231.0 96.6 L232.0 95.9 L233.0 95.5 L234.0 95.3 L235.0 95.6 L236.0 96.2 L237.0 96.8 L238.0 97.3 L239.0 97.3 L240.0 96.9 L241.0 96.3 L242.0 95.7 L243.0 95.4 L244.0 95.4 L245.0 95.8 L246.0 96.4 L247.0 97.0 L248.0 97.3 L249.0 97.2 L250.0 96.7 L251.0 96.1 L252.0 95.5 L253.0 95.3 L254.0 95.5 L255.0 96.0 L256.0 96.7 L257.0 97.2 L258.0 97.3 L259.0 97.1 L260.0 96.5 L261.0 95.9 L262.0 95.4 L263.0 95.4 L264.0 95.7 L265.0 96.3 L266.0 96.9 L267.0 97.3 L268.0 97.3 L269.0 96.9 L270.0 96.2 L271.0 95.7 L272.0 95.3 L273.0 95.4 L274.0 95.9 L275.0 96.5 L276.0 97.1 L277.0 97.3 L278.0 97.2 L279.0 96.6 L280.0 96.0 L281.0 95.5 L282.0 95.3 L283.0 95.6 L284.0 96.1 L285.0 96.8 L286.0 97.2 L287.0 97.3 L288.0 97.0 L289.0 96.4 L290.0 95.8 L291.0 95.4 L292.0 95.4 L293.0 95.8 L294.0 96.4 L295.0 97.0 L296.0 97.3 L297.0 97.2 L298.0 96.8 L299.0 96.2 L300.0 95.6 L301.0 95.3 L302.0 95.5 L303.0 96.0 L304.0 96.6 L305.0 97.1 L306.0 97.3 L307.0 97.1 L308.0 96.6 L309.0 95.9 L310.0 95.5 L311.0 95.3 L312.0 95.6 L313.0 96.2 L314.0 96.8 L315.0 97.3 L316.0 97.3 L317.0 96.9 L318.0 96.3 L319.0 95.7 L320.0 95.4 L321.0 95.4 L322.0 95.8 L323.0 96.4 L324.0 97.0 L325.0 97.3 L326.0 97.2 L327.0 96.7 L328.0 96.1 L329.0 95.5 L330.0 95.3 L331.0 95.5 L332.0 96.0 L333.0 96.7 L334.0 97.2 L335.0 97.3 L336.0 97.1 L337.0 96.5" fill="none" stroke="#b8c0d0" stroke-width="1.90" filter="url(#eb)" opacity="0.6"/><rect x="220" y="55" width="115.5" height="47.5" filter="url(#en1)" opacity="0.35"/><line x1="220" y1="101.9" x2="335.5" y2="101.9" stroke="#c8c04a" stroke-width="0.8" stroke-dasharray="0.8 1.6" opacity=".8"/><rect x="334.3" y="55" width="1.2" height="47.5" fill="#0a0a0c"/></g>
<clipPath id="ec2"><rect x="339.7" y="54.4" width="113.8" height="47.1"/></clipPath><g clip-path="url(#ec2)"><rect x="339.7" y="54.4" width="113.8" height="47.1" fill="url(#eg2)"/><rect x="339.7" y="61.70" width="113.8" height="0.85" fill="#80868f" opacity="0.6"/><path d="M337.7 88.4 L338.7 89.3 L339.7 89.6 L340.7 89.7 L341.7 89.6 L342.7 89.2 L343.7 88.4 L344.7 88.0 L345.7 87.9 L346.7 88.0 L347.7 88.3 L348.7 89.1 L349.7 89.5 L350.7 89.7 L351.7 89.6 L352.7 89.4 L353.7 88.6 L354.7 88.1 L355.7 87.9 L356.7 87.9 L357.7 88.1 L358.7 88.7 L359.7 89.4 L360.7 89.6 L361.7 89.7 L362.7 89.5 L363.7 89.0 L364.7 88.2 L365.7 87.9 L366.7 87.9 L367.7 88.0 L368.7 88.4 L369.7 89.3 L370.7 89.6 L371.7 89.7 L372.7 89.6 L373.7 89.2 L374.7 88.4 L375.7 88.0 L376.7 87.9 L377.7 88.0 L378.7 88.2 L379.7 89.1 L380.7 89.5 L381.7 89.7 L382.7 89.6 L383.7 89.4 L384.7 88.6 L385.7 88.1 L386.7 87.9 L387.7 87.9 L388.7 88.1 L389.7 88.6 L390.7 89.4 L391.7 89.6 L392.7 89.7 L393.7 89.5 L394.7 89.1 L395.7 88.2 L396.7 88.0 L397.7 87.9 L398.7 88.0 L399.7 88.4 L400.7 89.3 L401.7 89.6 L402.7 89.7 L403.7 89.6 L404.7 89.3 L405.7 88.4 L406.7 88.0 L407.7 87.9 L408.7 87.9 L409.7 88.2 L410.7 89.1 L411.7 89.5 L412.7 89.7 L413.7 89.6 L414.7 89.4 L415.7 88.7 L416.7 88.1 L417.7 87.9 L418.7 87.9 L419.7 88.1 L420.7 88.6 L421.7 89.4 L422.7 89.6 L423.7 89.7 L424.7 89.5 L425.7 89.1 L426.7 88.2 L427.7 88.0 L428.7 87.9 L429.7 88.0 L430.7 88.4 L431.7 89.2 L432.7 89.6 L433.7 89.7 L434.7 89.6 L435.7 89.3 L436.7 88.4 L437.7 88.0 L438.7 87.9 L439.7 87.9 L440.7 88.2 L441.7 89.0 L442.7 89.5 L443.7 89.7 L444.7 89.6 L445.7 89.4 L446.7 88.7 L447.7 88.1 L448.7 87.9 L449.7 87.9 L450.7 88.1 L451.7 88.6 L452.7 89.4 L453.7 89.6 L454.7 89.7" fill="none" stroke="#70747e" stroke-width="2.83" filter="url(#eb)" opacity="1"/><rect x="339.7" y="54.4" width="113.8" height="47.1" filter="url(#en2)" opacity="0.3"/><line x1="339.7" y1="100.9" x2="453.5" y2="100.9" stroke="#c8c04a" stroke-width="0.8" stroke-dasharray="0.8 1.6" opacity=".8"/><rect x="451.7" y="54.4" width="1.8" height="47.1" fill="#0a0a0c"/></g>
<clipPath id="ec3"><rect x="457.7" y="54.4" width="115" height="47.1"/></clipPath><g clip-path="url(#ec3)"><rect x="457.7" y="54.4" width="115" height="47.1" fill="url(#eg3)"/><path d="M455.7 73.7 L456.7 74.3 L457.7 75.1 L458.7 75.7 L459.7 76.0 L460.7 76.0 L461.7 75.5 L462.7 74.8 L463.7 74.1 L464.7 73.5 L465.7 73.3 L466.7 73.4 L467.7 74.0 L468.7 74.7 L469.7 75.4 L470.7 75.9 L471.7 76.0 L472.7 75.8 L473.7 75.2 L474.7 74.4 L475.7 73.7 L476.7 73.3 L477.7 73.3 L478.7 73.7 L479.7 74.3 L480.7 75.1 L481.7 75.7 L482.7 76.0 L483.7 76.0 L484.7 75.5 L485.7 74.8 L486.7 74.1 L487.7 73.5 L488.7 73.3 L489.7 73.4 L490.7 74.0 L491.7 74.7 L492.7 75.4 L493.7 75.9 L494.7 76.0 L495.7 75.8 L496.7 75.2 L497.7 74.4 L498.7 73.7 L499.7 73.3 L500.7 73.3 L501.7 73.7 L502.7 74.3 L503.7 75.1 L504.7 75.7 L505.7 76.0 L506.7 76.0 L507.7 75.5 L508.7 74.8 L509.7 74.1 L510.7 73.5 L511.7 73.3 L512.7 73.4 L513.7 74.0 L514.7 74.7 L515.7 75.4 L516.7 75.9 L517.7 76.0 L518.7 75.8 L519.7 75.2 L520.7 74.4 L521.7 73.7 L522.7 73.3 L523.7 73.3 L524.7 73.7 L525.7 74.3 L526.7 75.1 L527.7 75.7 L528.7 76.0 L529.7 76.0 L530.7 75.5 L531.7 74.8 L532.7 74.1 L533.7 73.5 L534.7 73.3 L535.7 73.4 L536.7 74.0 L537.7 74.7 L538.7 75.4 L539.7 75.9 L540.7 76.0 L541.7 75.8 L542.7 75.2 L543.7 74.4 L544.7 73.7 L545.7 73.3 L546.7 73.3 L547.7 73.7 L548.7 74.3 L549.7 75.1 L550.7 75.7 L551.7 76.0 L552.7 76.0 L553.7 75.5 L554.7 74.8 L555.7 74.1 L556.7 73.5 L557.7 73.3 L558.7 73.4 L559.7 74.0 L560.7 74.7 L561.7 75.4 L562.7 75.9 L563.7 76.0 L564.7 75.8 L565.7 75.2 L566.7 74.4 L567.7 73.7 L568.7 73.3 L569.7 73.3 L570.7 73.7 L571.7 74.3 L572.7 75.1 L573.7 75.7 L574.7 76.0 L574.7 83.9 L573.7 84.3 L572.7 85.0 L571.7 85.9 L570.7 86.6 L569.7 87.0 L568.7 87.0 L567.7 86.5 L566.7 85.7 L565.7 84.9 L564.7 84.2 L563.7 83.9 L562.7 84.0 L561.7 84.6 L560.7 85.4 L559.7 86.3 L558.7 86.9 L557.7 87.1 L556.7 86.8 L555.7 86.2 L554.7 85.3 L553.7 84.5 L552.7 84.0 L551.7 83.9 L550.7 84.3 L549.7 85.0 L548.7 85.9 L547.7 86.6 L546.7 87.0 L545.7 87.0 L544.7 86.5 L543.7 85.7 L542.7 84.9 L541.7 84.2 L540.7 83.9 L539.7 84.0 L538.7 84.6 L537.7 85.4 L536.7 86.3 L535.7 86.9 L534.7 87.1 L533.7 86.8 L532.7 86.2 L531.7 85.3 L530.7 84.5 L529.7 84.0 L528.7 83.9 L527.7 84.3 L526.7 85.0 L525.7 85.9 L524.7 86.6 L523.7 87.0 L522.7 87.0 L521.7 86.5 L520.7 85.7 L519.7 84.9 L518.7 84.2 L517.7 83.9 L516.7 84.0 L515.7 84.6 L514.7 85.4 L513.7 86.3 L512.7 86.9 L511.7 87.1 L510.7 86.8 L509.7 86.2 L508.7 85.3 L507.7 84.5 L506.7 84.0 L505.7 83.9 L504.7 84.3 L503.7 85.0 L502.7 85.9 L501.7 86.6 L500.7 87.0 L499.7 87.0 L498.7 86.5 L497.7 85.7 L496.7 84.9 L495.7 84.2 L494.7 83.9 L493.7 84.0 L492.7 84.6 L491.7 85.4 L490.7 86.3 L489.7 86.9 L488.7 87.1 L487.7 86.8 L486.7 86.2 L485.7 85.3 L484.7 84.5 L483.7 84.0 L482.7 83.9 L481.7 84.3 L480.7 85.0 L479.7 85.9 L478.7 86.6 L477.7 87.0 L476.7 87.0 L475.7 86.5 L474.7 85.7 L473.7 84.9 L472.7 84.2 L471.7 83.9 L470.7 84.0 L469.7 84.6 L468.7 85.4 L467.7 86.3 L466.7 86.9 L465.7 87.1 L464.7 86.8 L463.7 86.2 L462.7 85.3 L461.7 84.5 L460.7 84.0 L459.7 83.9 L458.7 84.3 L457.7 85.0 L456.7 85.9 L455.7 86.6Z" fill="#14151a" filter="url(#eb)"/><path d="M455.7 67.0 L456.7 67.6 L457.7 68.1 L458.7 68.6 L459.7 68.9 L460.7 68.8 L461.7 68.5 L462.7 67.9 L463.7 67.4 L464.7 66.9 L465.7 66.7 L466.7 66.9 L467.7 67.3 L468.7 67.9 L469.7 68.4 L470.7 68.8 L471.7 68.9 L472.7 68.7 L473.7 68.2 L474.7 67.6 L475.7 67.1 L476.7 66.8 L477.7 66.8 L478.7 67.0 L479.7 67.6 L480.7 68.1 L481.7 68.6 L482.7 68.9 L483.7 68.8 L484.7 68.5 L485.7 67.9 L486.7 67.4 L487.7 66.9 L488.7 66.7 L489.7 66.9 L490.7 67.3 L491.7 67.9 L492.7 68.4 L493.7 68.8 L494.7 68.9 L495.7 68.7 L496.7 68.2 L497.7 67.6 L498.7 67.1 L499.7 66.8 L500.7 66.8 L501.7 67.0 L502.7 67.6 L503.7 68.1 L504.7 68.6 L505.7 68.9 L506.7 68.8 L507.7 68.5 L508.7 67.9 L509.7 67.4 L510.7 66.9 L511.7 66.7 L512.7 66.9 L513.7 67.3 L514.7 67.9 L515.7 68.4 L516.7 68.8 L517.7 68.9 L518.7 68.7 L519.7 68.2 L520.7 67.6 L521.7 67.1 L522.7 66.8 L523.7 66.8 L524.7 67.0 L525.7 67.6 L526.7 68.1 L527.7 68.6 L528.7 68.9 L529.7 68.8 L530.7 68.5 L531.7 67.9 L532.7 67.4 L533.7 66.9 L534.7 66.7 L535.7 66.9 L536.7 67.3 L537.7 67.9 L538.7 68.4 L539.7 68.8 L540.7 68.9 L541.7 68.7 L542.7 68.2 L543.7 67.6 L544.7 67.1 L545.7 66.8 L546.7 66.8 L547.7 67.0 L548.7 67.6 L549.7 68.1 L550.7 68.6 L551.7 68.9 L552.7 68.8 L553.7 68.5 L554.7 67.9 L555.7 67.4 L556.7 66.9 L557.7 66.7 L558.7 66.9 L559.7 67.3 L560.7 67.9 L561.7 68.4 L562.7 68.8 L563.7 68.9 L564.7 68.7 L565.7 68.2 L566.7 67.6 L567.7 67.1 L568.7 66.8 L569.7 66.8 L570.7 67.0 L571.7 67.6 L572.7 68.1 L573.7 68.6 L574.7 68.9" fill="none" stroke="#b0b6c4" stroke-width="1.65" filter="url(#eb)" opacity="0.85"/><rect x="457.7" y="54.4" width="115" height="47.1" filter="url(#en3)" opacity="0.35"/><line x1="457.7" y1="100.9" x2="572.7" y2="100.9" stroke="#c8c04a" stroke-width="0.8" stroke-dasharray="0.8 1.6" opacity=".8"/><rect x="570.9000000000001" y="54.4" width="1.8" height="47.1" fill="#0a0a0c"/></g>
<rect x="241.50" y="149.30" width="24.70" height="61.70" fill="#fff" stroke="#dc2424" stroke-width="1.3"/>
<rect x="280.70" y="180.70" width="24.20" height="30.30" fill="#fff" stroke="#1c1c92" stroke-width="1.3"/>
<rect x="320.30" y="151.80" width="23.90" height="59.20" fill="#fff" stroke="#1c1c92" stroke-width="1.3"/>
<line x1="227.60" y1="122.90" x2="227.60" y2="211.80" stroke="#000" stroke-width="1.6"/>
<line x1="222.00" y1="211.00" x2="359.30" y2="211.00" stroke="#000" stroke-width="1.6"/>
<line x1="223.40" y1="124.50" x2="227.60" y2="124.50" stroke="#000" stroke-width="1.6"/>
<text x="222.4" y="126.732" font-size="6.2" text-anchor="end" font-weight="bold" fill="#000">100</text>
<line x1="223.40" y1="141.70" x2="227.60" y2="141.70" stroke="#000" stroke-width="1.6"/>
<text x="222.4" y="143.932" font-size="6.2" text-anchor="end" font-weight="bold" fill="#000">80</text>
<line x1="223.40" y1="159.10" x2="227.60" y2="159.10" stroke="#000" stroke-width="1.6"/>
<text x="222.4" y="161.332" font-size="6.2" text-anchor="end" font-weight="bold" fill="#000">60</text>
<line x1="223.40" y1="176.40" x2="227.60" y2="176.40" stroke="#000" stroke-width="1.6"/>
<text x="222.4" y="178.632" font-size="6.2" text-anchor="end" font-weight="bold" fill="#000">40</text>
<line x1="223.40" y1="193.50" x2="227.60" y2="193.50" stroke="#000" stroke-width="1.6"/>
<text x="222.4" y="195.732" font-size="6.2" text-anchor="end" font-weight="bold" fill="#000">20</text>
<line x1="223.40" y1="211.00" x2="227.60" y2="211.00" stroke="#000" stroke-width="1.6"/>
<text x="222.4" y="213.232" font-size="6.2" text-anchor="end" font-weight="bold" fill="#000">0</text>
<line x1="253.85" y1="211.00" x2="253.85" y2="215.20" stroke="#000" stroke-width="1.6"/>
<line x1="253.80" y1="144.60" x2="253.80" y2="153.10" stroke="#d43a3a" stroke-width="0.85"/>
<line x1="247.60" y1="144.60" x2="260.00" y2="144.60" stroke="#d43a3a" stroke-width="0.85"/>
<line x1="247.60" y1="153.10" x2="260.00" y2="153.10" stroke="#d43a3a" stroke-width="0.85"/>
<circle cx="247.10" cy="138.40" r="1.80" fill="#cf1818"/>
<circle cx="253.80" cy="140.90" r="1.80" fill="#cf1818"/>
<circle cx="260.90" cy="140.60" r="1.80" fill="#cf1818"/>
<circle cx="253.80" cy="149.60" r="1.80" fill="#cf1818"/>
<circle cx="253.80" cy="158.90" r="1.80" fill="#cf1818"/>
<circle cx="253.80" cy="163.90" r="1.80" fill="#cf1818"/>
<text x="258.25" y="226.8" font-size="11.5" text-anchor="end" font-weight="normal" fill="#111" transform="rotate(-45 258.25 226.8)">Sham</text>
<line x1="292.80" y1="211.00" x2="292.80" y2="215.20" stroke="#000" stroke-width="1.6"/>
<line x1="293.20" y1="176.40" x2="293.20" y2="183.90" stroke="#1c1c92" stroke-width="0.85"/>
<line x1="287.20" y1="176.40" x2="299.20" y2="176.40" stroke="#1c1c92" stroke-width="0.85"/>
<line x1="287.20" y1="183.90" x2="299.20" y2="183.90" stroke="#1c1c92" stroke-width="0.85"/>
<rect x="291.65" y="168.15" width="3.30" height="3.30" fill="#000"/>
<rect x="287.35" y="179.55" width="3.30" height="3.30" fill="#000"/>
<rect x="294.85" y="180.15" width="3.30" height="3.30" fill="#000"/>
<rect x="291.65" y="185.95" width="3.30" height="3.30" fill="#000"/>
<text x="297.19999999999993" y="226.8" font-size="11.5" text-anchor="end" font-weight="normal" fill="#111" transform="rotate(-45 297.19999999999993 226.8)">MI</text>
<line x1="332.25" y1="211.00" x2="332.25" y2="215.20" stroke="#000" stroke-width="1.6"/>
<line x1="332.20" y1="145.40" x2="332.20" y2="157.10" stroke="#2e2ed0" stroke-width="0.85"/>
<line x1="325.80" y1="145.40" x2="338.60" y2="145.40" stroke="#2e2ed0" stroke-width="0.85"/>
<line x1="325.80" y1="157.10" x2="338.60" y2="157.10" stroke="#2e2ed0" stroke-width="0.85"/>
<path d="M328.70 137.56L330.65 141.13L326.75 141.13Z" fill="#2222cc"/>
<path d="M335.90 138.76L337.85 142.33L333.94 142.33Z" fill="#2222cc"/>
<path d="M332.20 148.76L334.15 152.33L330.25 152.33Z" fill="#2222cc"/>
<path d="M332.20 155.36L334.15 158.93L330.25 158.93Z" fill="#2222cc"/>
<path d="M332.20 167.96L334.15 171.53L330.25 171.53Z" fill="#2222cc"/>
<text x="335.15" y="226.8" font-size="11.5" text-anchor="end" font-weight="normal" fill="#111" transform="rotate(-45 335.15 226.8)">+GDF11</text>
<text x="205.8" y="167.2" font-size="11.5" text-anchor="middle" font-weight="normal" fill="#111" transform="rotate(-90 205.8 167.2)">EF (%)</text>
<line x1="254.30" y1="132.50" x2="293.20" y2="132.50" stroke="#000" stroke-width="1.25"/>
<line x1="254.30" y1="129.30" x2="254.30" y2="135.70" stroke="#000" stroke-width="1.25"/>
<line x1="293.20" y1="129.30" x2="293.20" y2="135.70" stroke="#000" stroke-width="1.25"/>
<text x="273.75" y="135.12" font-size="14.5" text-anchor="middle" font-weight="bold" fill="#000">***</text>
<line x1="292.80" y1="122.00" x2="332.20" y2="122.00" stroke="#000" stroke-width="1.25"/>
<line x1="292.80" y1="118.80" x2="292.80" y2="125.20" stroke="#000" stroke-width="1.25"/>
<line x1="332.20" y1="118.80" x2="332.20" y2="125.20" stroke="#000" stroke-width="1.25"/>
<text x="312.5" y="123.92" font-size="14.5" text-anchor="middle" font-weight="normal" fill="#000">**</text>
<rect x="418.70" y="157.80" width="24.00" height="52.50" fill="#fff" stroke="#dc2424" stroke-width="1.3"/>
<rect x="456.90" y="190.40" width="23.70" height="19.90" fill="#fff" stroke="#000" stroke-width="1.3"/>
<rect x="495.10" y="161.80" width="23.70" height="48.50" fill="#fff" stroke="#1c1c92" stroke-width="1.3"/>
<line x1="403.20" y1="124.10" x2="403.20" y2="211.10" stroke="#000" stroke-width="1.6"/>
<line x1="398.60" y1="210.30" x2="533.00" y2="210.30" stroke="#000" stroke-width="1.6"/>
<line x1="399.00" y1="125.20" x2="403.20" y2="125.20" stroke="#000" stroke-width="1.6"/>
<text x="398.0" y="127.432" font-size="6.2" text-anchor="end" font-weight="bold" fill="#000">60</text>
<line x1="399.00" y1="153.80" x2="403.20" y2="153.80" stroke="#000" stroke-width="1.6"/>
<text x="398.0" y="156.032" font-size="6.2" text-anchor="end" font-weight="bold" fill="#000">40</text>
<line x1="399.00" y1="182.00" x2="403.20" y2="182.00" stroke="#000" stroke-width="1.6"/>
<text x="398.0" y="184.232" font-size="6.2" text-anchor="end" font-weight="bold" fill="#000">20</text>
<line x1="399.00" y1="210.30" x2="403.20" y2="210.30" stroke="#000" stroke-width="1.6"/>
<text x="398.0" y="212.532" font-size="6.2" text-anchor="end" font-weight="bold" fill="#000">0</text>
<line x1="430.70" y1="210.30" x2="430.70" y2="214.50" stroke="#000" stroke-width="1.6"/>
<line x1="430.60" y1="151.30" x2="430.60" y2="163.40" stroke="#d43a3a" stroke-width="0.85"/>
<line x1="424.40" y1="151.30" x2="436.80" y2="151.30" stroke="#d43a3a" stroke-width="0.85"/>
<line x1="424.40" y1="163.40" x2="436.80" y2="163.40" stroke="#d43a3a" stroke-width="0.85"/>
<circle cx="430.60" cy="139.80" r="1.80" fill="#cf1818"/>
<circle cx="430.60" cy="144.80" r="1.80" fill="#cf1818"/>
<circle cx="430.60" cy="156.60" r="1.80" fill="#cf1818"/>
<circle cx="430.60" cy="162.80" r="1.80" fill="#cf1818"/>
<circle cx="430.60" cy="170.00" r="1.80" fill="#cf1818"/>
<circle cx="430.60" cy="176.50" r="1.80" fill="#cf1818"/>
<text x="435.09999999999997" y="226.10000000000002" font-size="11.5" text-anchor="end" font-weight="normal" fill="#111" transform="rotate(-45 435.09999999999997 226.10000000000002)">Sham</text>
<line x1="468.75" y1="210.30" x2="468.75" y2="214.50" stroke="#000" stroke-width="1.6"/>
<line x1="468.40" y1="186.40" x2="468.40" y2="192.30" stroke="#000" stroke-width="0.85"/>
<line x1="462.20" y1="186.40" x2="474.60" y2="186.40" stroke="#000" stroke-width="0.85"/>
<line x1="462.20" y1="192.30" x2="474.60" y2="192.30" stroke="#000" stroke-width="0.85"/>
<rect x="466.75" y="180.75" width="3.30" height="3.30" fill="#000"/>
<rect x="462.45" y="188.45" width="3.30" height="3.30" fill="#000"/>
<rect x="470.85" y="188.45" width="3.30" height="3.30" fill="#000"/>
<rect x="466.75" y="192.85" width="3.30" height="3.30" fill="#000"/>
<text x="473.15" y="226.10000000000002" font-size="11.5" text-anchor="end" font-weight="normal" fill="#111" transform="rotate(-45 473.15 226.10000000000002)">MI</text>
<line x1="506.95" y1="210.30" x2="506.95" y2="214.50" stroke="#000" stroke-width="1.6"/>
<line x1="506.60" y1="154.40" x2="506.60" y2="168.40" stroke="#2e2ed0" stroke-width="0.85"/>
<line x1="500.40" y1="154.40" x2="512.80" y2="154.40" stroke="#2e2ed0" stroke-width="0.85"/>
<line x1="500.40" y1="168.40" x2="512.80" y2="168.40" stroke="#2e2ed0" stroke-width="0.85"/>
<path d="M506.60 141.46L508.56 145.03L504.65 145.03Z" fill="#2222cc"/>
<path d="M506.60 148.36L508.56 151.93L504.65 151.93Z" fill="#2222cc"/>
<path d="M506.60 157.66L508.56 161.23L504.65 161.23Z" fill="#2222cc"/>
<path d="M506.60 168.56L508.56 172.13L504.65 172.13Z" fill="#2222cc"/>
<path d="M506.60 180.96L508.56 184.53L504.65 184.53Z" fill="#2222cc"/>
<text x="509.84999999999997" y="226.10000000000002" font-size="11.5" text-anchor="end" font-weight="normal" fill="#111" transform="rotate(-45 509.84999999999997 226.10000000000002)">+GDF11</text>
<text x="388.4" y="168.4" font-size="11.5" text-anchor="middle" font-weight="normal" fill="#111" transform="rotate(-90 388.4 168.4)">FS (%)</text>
<line x1="430.90" y1="131.70" x2="467.80" y2="131.70" stroke="#000" stroke-width="1.25"/>
<line x1="430.90" y1="128.50" x2="430.90" y2="134.90" stroke="#000" stroke-width="1.25"/>
<line x1="467.80" y1="128.50" x2="467.80" y2="134.90" stroke="#000" stroke-width="1.25"/>
<text x="449.35" y="134.22" font-size="14.5" text-anchor="middle" font-weight="bold" fill="#000">**</text>
<line x1="467.80" y1="121.80" x2="506.60" y2="121.80" stroke="#000" stroke-width="1.25"/>
<line x1="467.80" y1="118.60" x2="467.80" y2="125.00" stroke="#000" stroke-width="1.25"/>
<line x1="506.60" y1="118.60" x2="506.60" y2="125.00" stroke="#000" stroke-width="1.25"/>
<text x="487.20000000000005" y="124.12" font-size="14.5" text-anchor="middle" font-weight="normal" fill="#000">*</text>
<text x="63.9" y="309.3" font-size="12" text-anchor="middle" font-weight="normal" fill="#111">Sham</text>
<text x="68" y="368.8" font-size="12" text-anchor="middle" font-weight="normal" fill="#111">MI</text>
<text x="58.7" y="428.8" font-size="12" text-anchor="middle" font-weight="normal" fill="#111">+GDF11</text>
<rect transform="translate(85.9 275.3)" width="67.8" height="57.1" fill="#161112"/><rect transform="translate(85.9 275.3)" width="67.8" height="57.1" filter="url(#sp1)"/><rect transform="translate(156.6 275.3)" width="67.3" height="57.1" fill="#0d0d2e"/><rect transform="translate(156.6 275.3)" width="67.3" height="57.1" filter="url(#sp2)"/><rect transform="translate(227.3 275.3)" width="67.5" height="57.1" fill="#0d0d2e"/><rect transform="translate(227.3 275.3)" width="67.5" height="57.1" filter="url(#sp3)"/><rect transform="translate(227.3 275.3)" width="67.5" height="57.1" filter="url(#sp4)"/><rect transform="translate(85.9 336)" width="67.8" height="57.8" fill="#1a0f10"/><rect transform="translate(85.9 336)" width="67.8" height="57.8" filter="url(#sp5)"/><g transform="translate(85.9 336)" mask="url(#mm1)"><rect width="67.8" height="57.8" filter="url(#sp6)"/></g><rect transform="translate(156.6 336)" width="67.3" height="57.8" fill="#0d0d2e"/><rect transform="translate(156.6 336)" width="67.3" height="57.8" filter="url(#sp7)"/><rect transform="translate(227.3 336)" width="67.5" height="57.8" fill="#0d0d2e"/><rect transform="translate(227.3 336)" width="67.5" height="57.8" filter="url(#sp8)"/><rect transform="translate(227.3 336)" width="67.5" height="57.8" filter="url(#sp9)"/><g transform="translate(227.3 336)" mask="url(#mm2)"><rect width="67.5" height="57.8" filter="url(#sp10)"/></g><rect transform="translate(85.9 397.2)" width="67.8" height="58.1" fill="#171011"/><rect transform="translate(85.9 397.2)" width="67.8" height="58.1" filter="url(#sp11)"/><rect transform="translate(156.6 397.2)" width="67.3" height="58.1" fill="#0a0a24"/><rect transform="translate(156.6 397.2)" width="67.3" height="58.1" filter="url(#sp12)"/><rect transform="translate(227.3 397.2)" width="67.5" height="58.1" fill="#0a0a24"/><rect transform="translate(227.3 397.2)" width="67.5" height="58.1" filter="url(#sp13)"/><rect transform="translate(227.3 397.2)" width="67.5" height="58.1" filter="url(#sp14)"/><text x="88.9" y="284.5" font-size="7.5" fill="#e02222">CD86</text><text x="159.6" y="284.5" font-size="7.5" fill="#2a78e8">DAPI</text><text x="230.3" y="284.5" font-size="7" fill="#f2f2f2">Merge</text><text x="292.5" y="448.5" font-size="6.3" font-weight="bold" text-anchor="end" fill="#f2e21c">10 μm</text><rect x="283.2" y="451.2" width="9.4" height="1.3" fill="#f2e21c"/>
<rect x="144.50" y="553.40" width="24.60" height="6.70" fill="#fff" stroke="#dc2424" stroke-width="1.3"/>
<rect x="182.80" y="492.20" width="24.00" height="67.90" fill="#fff" stroke="#000" stroke-width="1.3"/>
<rect x="221.10" y="533.90" width="24.00" height="26.20" fill="#fff" stroke="#1c1c92" stroke-width="1.3"/>
<line x1="130.80" y1="473.85" x2="130.80" y2="560.85" stroke="#000" stroke-width="1.5"/>
<line x1="126.30" y1="560.10" x2="259.60" y2="560.10" stroke="#000" stroke-width="1.5"/>
<line x1="126.80" y1="474.60" x2="130.80" y2="474.60" stroke="#000" stroke-width="1.5"/>
<text x="125.80000000000001" y="476.76000000000005" font-size="6" text-anchor="end" font-weight="bold" fill="#000">50</text>
<line x1="126.80" y1="491.90" x2="130.80" y2="491.90" stroke="#000" stroke-width="1.5"/>
<text x="125.80000000000001" y="494.06" font-size="6" text-anchor="end" font-weight="bold" fill="#000">40</text>
<line x1="126.80" y1="508.90" x2="130.80" y2="508.90" stroke="#000" stroke-width="1.5"/>
<text x="125.80000000000001" y="511.06" font-size="6" text-anchor="end" font-weight="bold" fill="#000">30</text>
<line x1="126.80" y1="526.00" x2="130.80" y2="526.00" stroke="#000" stroke-width="1.5"/>
<text x="125.80000000000001" y="528.16" font-size="6" text-anchor="end" font-weight="bold" fill="#000">20</text>
<line x1="126.80" y1="543.00" x2="130.80" y2="543.00" stroke="#000" stroke-width="1.5"/>
<text x="125.80000000000001" y="545.16" font-size="6" text-anchor="end" font-weight="bold" fill="#000">10</text>
<line x1="126.80" y1="560.10" x2="130.80" y2="560.10" stroke="#000" stroke-width="1.5"/>
<text x="125.80000000000001" y="562.26" font-size="6" text-anchor="end" font-weight="bold" fill="#000">0</text>
<line x1="156.80" y1="560.10" x2="156.80" y2="564.60" stroke="#000" stroke-width="1.5"/>
<line x1="156.80" y1="550.90" x2="156.80" y2="554.80" stroke="#d43a3a" stroke-width="0.85"/>
<line x1="152.30" y1="550.90" x2="161.30" y2="550.90" stroke="#d43a3a" stroke-width="0.85"/>
<line x1="152.30" y1="554.80" x2="161.30" y2="554.80" stroke="#d43a3a" stroke-width="0.85"/>
<circle cx="150.10" cy="553.40" r="1.60" fill="#cf1818"/>
<circle cx="156.50" cy="551.40" r="1.60" fill="#cf1818"/>
<circle cx="163.20" cy="552.80" r="1.60" fill="#cf1818"/>
<text x="161.20000000000002" y="572.4" font-size="10" text-anchor="end" font-weight="normal" fill="#111" transform="rotate(-45 161.20000000000002 572.4)">Sham</text>
<line x1="194.80" y1="560.10" x2="194.80" y2="564.60" stroke="#000" stroke-width="1.5"/>
<line x1="194.80" y1="489.10" x2="194.80" y2="494.10" stroke="#000" stroke-width="0.85"/>
<line x1="189.20" y1="489.10" x2="200.40" y2="489.10" stroke="#000" stroke-width="0.85"/>
<line x1="189.20" y1="494.10" x2="200.40" y2="494.10" stroke="#000" stroke-width="0.85"/>
<rect x="189.50" y="493.00" width="3.40" height="3.40" fill="#000"/>
<rect x="193.10" y="486.30" width="3.40" height="3.40" fill="#000"/>
<rect x="197.30" y="491.00" width="3.40" height="3.40" fill="#000"/>
<text x="199.20000000000002" y="572.4" font-size="10" text-anchor="end" font-weight="normal" fill="#111" transform="rotate(-45 199.20000000000002 572.4)">MI</text>
<line x1="233.10" y1="560.10" x2="233.10" y2="564.60" stroke="#000" stroke-width="1.5"/>
<line x1="233.10" y1="530.50" x2="233.10" y2="536.00" stroke="#2e2ed0" stroke-width="0.85"/>
<line x1="227.50" y1="530.50" x2="238.70" y2="530.50" stroke="#2e2ed0" stroke-width="0.85"/>
<line x1="227.50" y1="536.00" x2="238.70" y2="536.00" stroke="#2e2ed0" stroke-width="0.85"/>
<path d="M228.90 533.16L230.86 536.73L226.94 536.73Z" fill="#2222cc"/>
<path d="M233.10 528.16L235.06 531.73L231.14 531.73Z" fill="#2222cc"/>
<path d="M237.30 532.36L239.26 535.93L235.34 535.93Z" fill="#2222cc"/>
<text x="237.5" y="572.4" font-size="10" text-anchor="end" font-weight="normal" fill="#111" transform="rotate(-45 237.5 572.4)">+GDF11</text>
<text x="103.1" y="517.3" font-size="9.5" text-anchor="middle" font-weight="normal" fill="#111" transform="rotate(-90 103.1 517.3)">CD86<tspan dy="-3.4" font-size="6.5">+</tspan><tspan dy="3.4"> cells/ Total cells</tspan></text>
<text x="114.8" y="516.2" font-size="9.2" text-anchor="middle" font-weight="normal" fill="#111" transform="rotate(-90 114.8 516.2)">(100%)</text>
<line x1="158.80" y1="479.00" x2="194.80" y2="479.00" stroke="#000" stroke-width="1.25"/>
<line x1="158.80" y1="475.10" x2="158.80" y2="482.90" stroke="#000" stroke-width="1.25"/>
<line x1="194.80" y1="475.10" x2="194.80" y2="482.90" stroke="#000" stroke-width="1.25"/>
<text x="176.8" y="481.23999999999995" font-size="14" text-anchor="middle" font-weight="normal" fill="#000">***</text>
<line x1="194.80" y1="470.40" x2="230.60" y2="470.40" stroke="#000" stroke-width="1.25"/>
<line x1="194.80" y1="466.50" x2="194.80" y2="474.30" stroke="#000" stroke-width="1.25"/>
<line x1="230.60" y1="466.50" x2="230.60" y2="474.30" stroke="#000" stroke-width="1.25"/>
<text x="212.7" y="472.93999999999994" font-size="14" text-anchor="middle" font-weight="normal" fill="#000">***</text>
<text x="361" y="312.3" font-size="12" text-anchor="middle" font-weight="normal" fill="#111">Sham</text>
<text x="366" y="371.3" font-size="12" text-anchor="middle" font-weight="normal" fill="#111">MI</text>
<text x="355" y="428.8" font-size="12" text-anchor="middle" font-weight="normal" fill="#111">+GDF11</text>
<rect transform="translate(381.9 276.5)" width="67.8" height="57.2" fill="#0a180c"/><rect transform="translate(381.9 276.5)" width="67.8" height="57.2" filter="url(#sp15)"/><rect transform="translate(452.8 276.5)" width="67.2" height="57.2" fill="#171615"/><rect transform="translate(452.8 276.5)" width="67.2" height="57.2" filter="url(#sp16)"/><rect transform="translate(524 276.5)" width="67.9" height="57.2" fill="#0a0d12"/><rect transform="translate(524 276.5)" width="67.9" height="57.2" filter="url(#sp17)"/><rect transform="translate(524 276.5)" width="67.9" height="57.2" filter="url(#fl18)" opacity="0.6"/><rect transform="translate(381.9 337.4)" width="67.8" height="57.1" fill="#171615"/><rect transform="translate(381.9 337.4)" width="67.8" height="57.1" filter="url(#fl19)"/><rect transform="translate(381.9 337.4)" width="67.8" height="57.1" filter="url(#sp20)"/><rect transform="translate(452.8 337.4)" width="67.2" height="57.1" fill="#171615"/><rect transform="translate(452.8 337.4)" width="67.2" height="57.1" filter="url(#sp21)"/><rect transform="translate(524 337.4)" width="67.9" height="57.1" fill="#0a0a10"/><rect transform="translate(524 337.4)" width="67.9" height="57.1" filter="url(#sp22)"/><rect transform="translate(524 337.4)" width="67.9" height="57.1" filter="url(#fl23)"/><rect transform="translate(381.9 398.1)" width="67.8" height="57.3" fill="#171615"/><rect transform="translate(381.9 398.1)" width="67.8" height="57.3" filter="url(#fl24)"/><rect transform="translate(381.9 398.1)" width="67.8" height="57.3" filter="url(#sp25)"/><rect transform="translate(452.8 398.1)" width="67.2" height="57.3" fill="#171615"/><rect transform="translate(452.8 398.1)" width="67.2" height="57.3" filter="url(#sp26)"/><rect transform="translate(524 398.1)" width="67.9" height="57.3" fill="#0a0a10"/><rect transform="translate(524 398.1)" width="67.9" height="57.3" filter="url(#sp27)"/><rect transform="translate(524 398.1)" width="67.9" height="57.3" filter="url(#fl28)"/><text x="384.9" y="285.9" font-size="7.5" fill="#22b838">CD206</text><text x="455.8" y="285.9" font-size="7.5" fill="#2a78e8">DAPI</text><text x="527" y="285.9" font-size="7" fill="#f2f2f2">Merge</text><text x="588.5" y="448.3" font-size="6.3" font-weight="bold" text-anchor="end" fill="#f2e21c">10 μm</text><rect x="579.1" y="451.70000000000005" width="9.5" height="1.4" fill="#f2e21c"/>
<rect x="446.50" y="552.00" width="24.50" height="2.80" fill="#fff" stroke="#dc2424" stroke-width="1.3"/>
<rect x="485.10" y="539.40" width="23.90" height="15.40" fill="#fff" stroke="#000" stroke-width="1.3"/>
<rect x="523.90" y="500.30" width="23.70" height="54.50" fill="#fff" stroke="#1c1c92" stroke-width="1.3"/>
<line x1="432.80" y1="468.75" x2="432.80" y2="555.55" stroke="#000" stroke-width="1.5"/>
<line x1="429.10" y1="554.80" x2="562.70" y2="554.80" stroke="#000" stroke-width="1.5"/>
<line x1="428.80" y1="469.50" x2="432.80" y2="469.50" stroke="#000" stroke-width="1.5"/>
<text x="427.8" y="471.66" font-size="6" text-anchor="end" font-weight="bold" fill="#000">40</text>
<line x1="428.80" y1="491.10" x2="432.80" y2="491.10" stroke="#000" stroke-width="1.5"/>
<text x="427.8" y="493.26000000000005" font-size="6" text-anchor="end" font-weight="bold" fill="#000">30</text>
<line x1="428.80" y1="512.30" x2="432.80" y2="512.30" stroke="#000" stroke-width="1.5"/>
<text x="427.8" y="514.4599999999999" font-size="6" text-anchor="end" font-weight="bold" fill="#000">20</text>
<line x1="428.80" y1="533.50" x2="432.80" y2="533.50" stroke="#000" stroke-width="1.5"/>
<text x="427.8" y="535.66" font-size="6" text-anchor="end" font-weight="bold" fill="#000">10</text>
<line x1="428.80" y1="554.80" x2="432.80" y2="554.80" stroke="#000" stroke-width="1.5"/>
<text x="427.8" y="556.9599999999999" font-size="6" text-anchor="end" font-weight="bold" fill="#000">0</text>
<line x1="458.75" y1="554.80" x2="458.75" y2="559.30" stroke="#000" stroke-width="1.5"/>
<line x1="458.80" y1="549.50" x2="458.80" y2="553.40" stroke="#d43a3a" stroke-width="0.85"/>
<line x1="454.30" y1="549.50" x2="463.30" y2="549.50" stroke="#d43a3a" stroke-width="0.85"/>
<line x1="454.30" y1="553.40" x2="463.30" y2="553.40" stroke="#d43a3a" stroke-width="0.85"/>
<circle cx="452.90" cy="552.80" r="1.60" fill="#cf1818"/>
<circle cx="458.80" cy="548.10" r="1.60" fill="#cf1818"/>
<circle cx="464.10" cy="552.80" r="1.60" fill="#cf1818"/>
<text x="463.15" y="570.5999999999999" font-size="10" text-anchor="end" font-weight="normal" fill="#111" transform="rotate(-45 463.15 570.5999999999999)">Sham</text>
<line x1="497.05" y1="554.80" x2="497.05" y2="559.30" stroke="#000" stroke-width="1.5"/>
<line x1="497.00" y1="534.70" x2="497.00" y2="542.50" stroke="#000" stroke-width="0.85"/>
<line x1="491.40" y1="534.70" x2="502.60" y2="534.70" stroke="#000" stroke-width="0.85"/>
<line x1="491.40" y1="542.50" x2="502.60" y2="542.50" stroke="#000" stroke-width="0.85"/>
<rect x="491.70" y="540.50" width="3.40" height="3.40" fill="#000"/>
<rect x="495.30" y="529.30" width="3.40" height="3.40" fill="#000"/>
<rect x="499.30" y="540.50" width="3.40" height="3.40" fill="#000"/>
<text x="501.45" y="570.5999999999999" font-size="10" text-anchor="end" font-weight="normal" fill="#111" transform="rotate(-45 501.45 570.5999999999999)">MI</text>
<line x1="535.75" y1="554.80" x2="535.75" y2="559.30" stroke="#000" stroke-width="1.5"/>
<line x1="535.60" y1="495.00" x2="535.60" y2="503.90" stroke="#2e2ed0" stroke-width="0.85"/>
<line x1="530.00" y1="495.00" x2="541.20" y2="495.00" stroke="#2e2ed0" stroke-width="0.85"/>
<line x1="530.00" y1="503.90" x2="541.20" y2="503.90" stroke="#2e2ed0" stroke-width="0.85"/>
<path d="M531.70 501.86L533.66 505.43L529.75 505.43Z" fill="#2222cc"/>
<path d="M535.60 488.96L537.56 492.53L533.64 492.53Z" fill="#2222cc"/>
<path d="M539.50 501.06L541.46 504.63L537.54 504.63Z" fill="#2222cc"/>
<text x="540.15" y="570.5999999999999" font-size="10" text-anchor="end" font-weight="normal" fill="#111" transform="rotate(-45 540.15 570.5999999999999)">+GDF11</text>
<text x="405" y="512" font-size="9.6" text-anchor="middle" font-weight="normal" fill="#111" transform="rotate(-90 405 512)">CD206<tspan dy="-3.4" font-size="6.5">+</tspan><tspan dy="3.4"> cells/ Total cells</tspan></text>
<text x="416.7" y="512" font-size="9.3" text-anchor="middle" font-weight="normal" fill="#111" transform="rotate(-90 416.7 512)">(100%)</text>
<line x1="460.40" y1="514.30" x2="497.90" y2="514.30" stroke="#000" stroke-width="1.25"/>
<line x1="460.40" y1="510.40" x2="460.40" y2="518.20" stroke="#000" stroke-width="1.25"/>
<line x1="497.90" y1="510.40" x2="497.90" y2="518.20" stroke="#000" stroke-width="1.25"/>
<text x="479.15" y="516.54" font-size="14" text-anchor="middle" font-weight="normal" fill="#000">*</text>
<line x1="497.30" y1="481.80" x2="534.50" y2="481.80" stroke="#000" stroke-width="1.25"/>
<line x1="497.30" y1="477.90" x2="497.30" y2="485.70" stroke="#000" stroke-width="1.25"/>
<line x1="534.50" y1="477.90" x2="534.50" y2="485.70" stroke="#000" stroke-width="1.25"/>
<text x="515.9" y="484.03999999999996" font-size="14" text-anchor="middle" font-weight="normal" fill="#000">**</text>
<text x="110.6" y="616.3" font-size="12" text-anchor="middle" font-weight="normal" fill="#111">Sham</text>
<text x="220.2" y="616.3" font-size="12" text-anchor="middle" font-weight="normal" fill="#111">MI</text>
<text x="110.9" y="680" font-size="12" text-anchor="middle" font-weight="normal" fill="#111">+GDF11</text>
<text x="218.5" y="680" font-size="12.4" text-anchor="middle" font-weight="normal" fill="#111">+GDF11+CLs</text>
<clipPath id="ec4"><rect x="61.4" y="620.1" width="105.1" height="41.9"/></clipPath><g clip-path="url(#ec4)"><rect x="61.4" y="620.1" width="105.1" height="41.9" fill="url(#eg4)"/><path d="M59.4 638.6 L60.4 637.9 L61.4 637.3 L62.4 636.7 L63.4 636.2 L64.4 635.7 L65.4 635.4 L66.4 635.1 L67.4 634.9 L68.4 634.9 L69.4 634.9 L70.4 635.0 L71.4 635.3 L72.4 635.6 L73.4 636.1 L74.4 636.6 L75.4 637.2 L76.4 637.8 L77.4 638.4 L78.4 638.6 L79.4 638.0 L80.4 637.4 L81.4 636.8 L82.4 636.3 L83.4 635.8 L84.4 635.4 L85.4 635.1 L86.4 634.9 L87.4 634.9 L88.4 634.9 L89.4 635.0 L90.4 635.3 L91.4 635.6 L92.4 636.0 L93.4 636.5 L94.4 637.1 L95.4 637.7 L96.4 638.3 L97.4 638.7 L98.4 638.1 L99.4 637.4 L100.4 636.8 L101.4 636.3 L102.4 635.8 L103.4 635.4 L104.4 635.2 L105.4 635.0 L106.4 634.9 L107.4 634.9 L108.4 635.0 L109.4 635.2 L110.4 635.6 L111.4 636.0 L112.4 636.5 L113.4 637.0 L114.4 637.6 L115.4 638.3 L116.4 638.8 L117.4 638.1 L118.4 637.5 L119.4 636.9 L120.4 636.4 L121.4 635.9 L122.4 635.5 L123.4 635.2 L124.4 635.0 L125.4 634.9 L126.4 634.9 L127.4 635.0 L128.4 635.2 L129.4 635.5 L130.4 635.9 L131.4 636.4 L132.4 637.0 L133.4 637.6 L134.4 638.2 L135.4 638.9 L136.4 638.2 L137.4 637.6 L138.4 637.0 L139.4 636.4 L140.4 635.9 L141.4 635.5 L142.4 635.2 L143.4 635.0 L144.4 634.9 L145.4 634.9 L146.4 635.0 L147.4 635.2 L148.4 635.5 L149.4 635.9 L150.4 636.4 L151.4 636.9 L152.4 637.5 L153.4 638.1 L154.4 638.8 L155.4 638.3 L156.4 637.6 L157.4 637.0 L158.4 636.5 L159.4 636.0 L160.4 635.6 L161.4 635.2 L162.4 635.0 L163.4 634.9 L164.4 634.9 L165.4 635.0 L166.4 635.2 L167.4 635.4 L168.4 635.8 L168.4 647.4 L167.4 647.9 L166.4 648.3 L165.4 648.6 L164.4 648.7 L163.4 648.6 L162.4 648.5 L161.4 648.2 L160.4 647.8 L159.4 647.2 L158.4 646.6 L157.4 645.9 L156.4 645.1 L155.4 644.2 L154.4 643.6 L153.4 644.4 L152.4 645.2 L151.4 646.0 L150.4 646.7 L149.4 647.4 L148.4 647.9 L147.4 648.3 L146.4 648.5 L145.4 648.7 L144.4 648.7 L143.4 648.5 L142.4 648.2 L141.4 647.8 L140.4 647.3 L139.4 646.7 L138.4 645.9 L137.4 645.2 L136.4 644.3 L135.4 643.5 L134.4 644.3 L133.4 645.2 L132.4 645.9 L131.4 646.7 L130.4 647.3 L129.4 647.8 L128.4 648.2 L127.4 648.5 L126.4 648.7 L125.4 648.7 L124.4 648.5 L123.4 648.3 L122.4 647.9 L121.4 647.3 L120.4 646.7 L119.4 646.0 L118.4 645.2 L117.4 644.4 L116.4 643.6 L115.4 644.2 L114.4 645.1 L113.4 645.9 L112.4 646.6 L111.4 647.2 L110.4 647.8 L109.4 648.2 L108.4 648.5 L107.4 648.6 L106.4 648.7 L105.4 648.6 L104.4 648.3 L103.4 647.9 L102.4 647.4 L101.4 646.8 L100.4 646.1 L99.4 645.3 L98.4 644.5 L97.4 643.7 L96.4 644.1 L95.4 645.0 L94.4 645.8 L93.4 646.5 L92.4 647.2 L91.4 647.7 L90.4 648.1 L89.4 648.5 L88.4 648.6 L87.4 648.7 L86.4 648.6 L85.4 648.3 L84.4 648.0 L83.4 647.5 L82.4 646.9 L81.4 646.2 L80.4 645.4 L79.4 644.6 L78.4 643.8 L77.4 644.1 L76.4 644.9 L75.4 645.7 L74.4 646.4 L73.4 647.1 L72.4 647.7 L71.4 648.1 L70.4 648.4 L69.4 648.6 L68.4 648.7 L67.4 648.6 L66.4 648.4 L65.4 648.0 L64.4 647.5 L63.4 646.9 L62.4 646.3 L61.4 645.5 L60.4 644.7 L59.4 643.8Z" fill="#1c1c1c" filter="url(#eb)"/><path d="M59.4 653.2 L60.4 653.1 L61.4 652.7 L62.4 652.3 L63.4 651.9 L64.4 651.4 L65.4 650.9 L66.4 650.6 L67.4 650.3 L68.4 650.2 L69.4 650.3 L70.4 650.5 L71.4 650.9 L72.4 651.3 L73.4 651.8 L74.4 652.3 L75.4 652.7 L76.4 653.0 L77.4 653.2 L78.4 653.2 L79.4 653.1 L80.4 652.8 L81.4 652.4 L82.4 651.9 L83.4 651.4 L84.4 651.0 L85.4 650.6 L86.4 650.3 L87.4 650.2 L88.4 650.3 L89.4 650.5 L90.4 650.8 L91.4 651.3 L92.4 651.8 L93.4 652.3 L94.4 652.7 L95.4 653.0 L96.4 653.2 L97.4 653.2 L98.4 653.1 L99.4 652.8 L100.4 652.4 L101.4 652.0 L102.4 651.5 L103.4 651.0 L104.4 650.6 L105.4 650.4 L106.4 650.2 L107.4 650.3 L108.4 650.5 L109.4 650.8 L110.4 651.2 L111.4 651.7 L112.4 652.2 L113.4 652.6 L114.4 653.0 L115.4 653.2 L116.4 653.2 L117.4 653.1 L118.4 652.9 L119.4 652.5 L120.4 652.0 L121.4 651.5 L122.4 651.1 L123.4 650.7 L124.4 650.4 L125.4 650.2 L126.4 650.3 L127.4 650.4 L128.4 650.8 L129.4 651.2 L130.4 651.7 L131.4 652.2 L132.4 652.6 L133.4 652.9 L134.4 653.2 L135.4 653.2 L136.4 653.1 L137.4 652.9 L138.4 652.5 L139.4 652.1 L140.4 651.6 L141.4 651.1 L142.4 650.7 L143.4 650.4 L144.4 650.3 L145.4 650.3 L146.4 650.4 L147.4 650.7 L148.4 651.1 L149.4 651.6 L150.4 652.1 L151.4 652.6 L152.4 652.9 L153.4 653.2 L154.4 653.2 L155.4 653.2 L156.4 652.9 L157.4 652.6 L158.4 652.1 L159.4 651.6 L160.4 651.2 L161.4 650.7 L162.4 650.4 L163.4 650.3 L164.4 650.2 L165.4 650.4 L166.4 650.7 L167.4 651.1 L168.4 651.6" fill="none" stroke="#eeeeee" stroke-width="3.56" filter="url(#eb)" opacity="1"/><rect x="61.4" y="620.1" width="105.1" height="41.9" filter="url(#en4)" opacity="0.3"/></g>
<clipPath id="ec5"><rect x="169.1" y="619.8" width="104.8" height="42.7"/></clipPath><g clip-path="url(#ec5)"><rect x="169.1" y="619.8" width="104.8" height="42.7" fill="url(#eg5)"/><path d="M167.1 632.1 L168.1 632.4 L169.1 632.6 L170.1 632.8 L171.1 632.8 L172.1 632.8 L173.1 632.7 L174.1 632.5 L175.1 632.2 L176.1 631.9 L177.1 631.5 L178.1 631.2 L179.1 630.9 L180.1 630.6 L181.1 630.4 L182.1 630.3 L183.1 630.2 L184.1 630.3 L185.1 630.5 L186.1 630.7 L187.1 631.0 L188.1 631.3 L189.1 631.7 L190.1 632.0 L191.1 632.3 L192.1 632.6 L193.1 632.8 L194.1 632.8 L195.1 632.8 L196.1 632.7 L197.1 632.5 L198.1 632.3 L199.1 632.0 L200.1 631.6 L201.1 631.3 L202.1 630.9 L203.1 630.7 L204.1 630.4 L205.1 630.3 L206.1 630.2 L207.1 630.3 L208.1 630.4 L209.1 630.6 L210.1 630.9 L211.1 631.2 L212.1 631.6 L213.1 631.9 L214.1 632.2 L215.1 632.5 L216.1 632.7 L217.1 632.8 L218.1 632.8 L219.1 632.8 L220.1 632.6 L221.1 632.4 L222.1 632.1 L223.1 631.7 L224.1 631.4 L225.1 631.0 L226.1 630.7 L227.1 630.5 L228.1 630.3 L229.1 630.2 L230.1 630.3 L231.1 630.4 L232.1 630.6 L233.1 630.8 L234.1 631.1 L235.1 631.5 L236.1 631.8 L237.1 632.2 L238.1 632.4 L239.1 632.7 L240.1 632.8 L241.1 632.8 L242.1 632.8 L243.1 632.7 L244.1 632.4 L245.1 632.2 L246.1 631.8 L247.1 631.5 L248.1 631.1 L249.1 630.8 L250.1 630.6 L251.1 630.4 L252.1 630.3 L253.1 630.2 L254.1 630.3 L255.1 630.5 L256.1 630.7 L257.1 631.0 L258.1 631.4 L259.1 631.7 L260.1 632.1 L261.1 632.4 L262.1 632.6 L263.1 632.8 L264.1 632.8 L265.1 632.8 L266.1 632.7 L267.1 632.5 L268.1 632.2 L269.1 631.9 L270.1 631.6 L271.1 631.2 L272.1 630.9 L273.1 630.6 L274.1 630.4 L275.1 630.3" fill="none" stroke="#9a9a9a" stroke-width="2.14" filter="url(#eb)" opacity="1"/><path d="M167.1 657.3 L168.1 657.7 L169.1 658.1 L170.1 658.4 L171.1 658.6 L172.1 658.6 L173.1 658.4 L174.1 658.1 L175.1 657.7 L176.1 657.3 L177.1 656.9 L178.1 656.7 L179.1 656.6 L180.1 656.7 L181.1 656.9 L182.1 657.3 L183.1 657.7 L184.1 658.1 L185.1 658.4 L186.1 658.6 L187.1 658.6 L188.1 658.4 L189.1 658.1 L190.1 657.7 L191.1 657.3 L192.1 656.9 L193.1 656.7 L194.1 656.6 L195.1 656.7 L196.1 656.9 L197.1 657.3 L198.1 657.7 L199.1 658.1 L200.1 658.4 L201.1 658.6 L202.1 658.6 L203.1 658.4 L204.1 658.1 L205.1 657.7 L206.1 657.3 L207.1 656.9 L208.1 656.7 L209.1 656.6 L210.1 656.7 L211.1 656.9 L212.1 657.3 L213.1 657.7 L214.1 658.1 L215.1 658.4 L216.1 658.6 L217.1 658.6 L218.1 658.4 L219.1 658.1 L220.1 657.7 L221.1 657.3 L222.1 656.9 L223.1 656.7 L224.1 656.6 L225.1 656.7 L226.1 656.9 L227.1 657.3 L228.1 657.7 L229.1 658.1 L230.1 658.4 L231.1 658.6 L232.1 658.6 L233.1 658.4 L234.1 658.1 L235.1 657.7 L236.1 657.3 L237.1 656.9 L238.1 656.7 L239.1 656.6 L240.1 656.7 L241.1 656.9 L242.1 657.3 L243.1 657.7 L244.1 658.1 L245.1 658.4 L246.1 658.6 L247.1 658.6 L248.1 658.4 L249.1 658.1 L250.1 657.7 L251.1 657.2 L252.1 656.9 L253.1 656.7 L254.1 656.6 L255.1 656.7 L256.1 657.0 L257.1 657.3 L258.1 657.7 L259.1 658.1 L260.1 658.4 L261.1 658.6 L262.1 658.6 L263.1 658.4 L264.1 658.0 L265.1 657.6 L266.1 657.2 L267.1 656.9 L268.1 656.7 L269.1 656.6 L270.1 656.7 L271.1 657.0 L272.1 657.3 L273.1 657.8 L274.1 658.1 L275.1 658.4" fill="none" stroke="#bdbdbd" stroke-width="3.20" filter="url(#eb)" opacity="1"/><rect x="169.1" y="619.8" width="104.8" height="42.7" filter="url(#en5)" opacity="0.25"/></g>
<clipPath id="ec6"><rect x="62.3" y="685.2" width="104.2" height="42.3"/></clipPath><g clip-path="url(#ec6)"><rect x="62.3" y="685.2" width="104.2" height="42.3" fill="url(#eg6)"/><path d="M60.3 705.9 L61.3 706.6 L62.3 706.5 L63.3 705.9 L64.3 705.3 L65.3 704.7 L66.3 704.2 L67.3 703.8 L68.3 703.5 L69.3 703.4 L70.3 703.3 L71.3 703.3 L72.3 703.5 L73.3 703.8 L74.3 704.1 L75.3 704.6 L76.3 705.1 L77.3 705.7 L78.3 706.4 L79.3 706.8 L80.3 706.1 L81.3 705.5 L82.3 704.9 L83.3 704.4 L84.3 704.0 L85.3 703.6 L86.3 703.4 L87.3 703.3 L88.3 703.3 L89.3 703.4 L90.3 703.6 L91.3 704.0 L92.3 704.4 L93.3 704.9 L94.3 705.5 L95.3 706.1 L96.3 706.8 L97.3 706.3 L98.3 705.7 L99.3 705.1 L100.3 704.6 L101.3 704.1 L102.3 703.8 L103.3 703.5 L104.3 703.3 L105.3 703.3 L106.3 703.4 L107.3 703.5 L108.3 703.8 L109.3 704.2 L110.3 704.7 L111.3 705.3 L112.3 705.9 L113.3 706.5 L114.3 706.6 L115.3 705.9 L116.3 705.3 L117.3 704.8 L118.3 704.3 L119.3 703.9 L120.3 703.6 L121.3 703.4 L122.3 703.3 L123.3 703.3 L124.3 703.5 L125.3 703.7 L126.3 704.1 L127.3 704.5 L128.3 705.1 L129.3 705.7 L130.3 706.3 L131.3 706.8 L132.3 706.2 L133.3 705.6 L134.3 705.0 L135.3 704.5 L136.3 704.0 L137.3 703.7 L138.3 703.4 L139.3 703.3 L140.3 703.3 L141.3 703.4 L142.3 703.6 L143.3 703.9 L144.3 704.4 L145.3 704.9 L146.3 705.4 L147.3 706.1 L148.3 706.7 L149.3 706.4 L150.3 705.8 L151.3 705.2 L152.3 704.6 L153.3 704.2 L154.3 703.8 L155.3 703.5 L156.3 703.3 L157.3 703.3 L158.3 703.3 L159.3 703.5 L160.3 703.8 L161.3 704.2 L162.3 704.7 L163.3 705.2 L164.3 705.8 L165.3 706.5 L166.3 706.7 L167.3 706.0 L168.3 705.4 L168.3 714.8 L167.3 714.0 L166.3 713.1 L165.3 713.4 L164.3 714.2 L163.3 715.0 L162.3 715.8 L161.3 716.4 L160.3 716.9 L159.3 717.3 L158.3 717.5 L157.3 717.6 L156.3 717.6 L155.3 717.3 L154.3 717.0 L153.3 716.5 L152.3 715.8 L151.3 715.1 L150.3 714.3 L149.3 713.5 L148.3 713.1 L147.3 713.9 L146.3 714.8 L145.3 715.5 L144.3 716.2 L143.3 716.8 L142.3 717.2 L141.3 717.5 L140.3 717.6 L139.3 717.6 L138.3 717.4 L137.3 717.1 L136.3 716.7 L135.3 716.1 L134.3 715.4 L133.3 714.6 L132.3 713.8 L131.3 712.9 L130.3 713.6 L129.3 714.5 L128.3 715.2 L127.3 716.0 L126.3 716.6 L125.3 717.0 L124.3 717.4 L123.3 717.6 L122.3 717.6 L121.3 717.5 L120.3 717.2 L119.3 716.8 L118.3 716.3 L117.3 715.6 L116.3 714.9 L115.3 714.1 L114.3 713.2 L113.3 713.3 L112.3 714.2 L111.3 715.0 L110.3 715.7 L109.3 716.4 L108.3 716.9 L107.3 717.3 L106.3 717.5 L105.3 717.6 L104.3 717.6 L103.3 717.4 L102.3 717.0 L101.3 716.5 L100.3 715.9 L99.3 715.2 L98.3 714.4 L97.3 713.5 L96.3 713.0 L95.3 713.9 L94.3 714.7 L93.3 715.4 L92.3 716.1 L91.3 716.7 L90.3 717.1 L89.3 717.5 L88.3 717.6 L87.3 717.6 L86.3 717.5 L85.3 717.2 L84.3 716.7 L83.3 716.1 L82.3 715.4 L81.3 714.7 L80.3 713.9 L79.3 713.0 L78.3 713.5 L77.3 714.4 L76.3 715.2 L75.3 715.9 L74.3 716.5 L73.3 717.0 L72.3 717.4 L71.3 717.6 L70.3 717.6 L69.3 717.5 L68.3 717.3 L67.3 716.9 L66.3 716.4 L65.3 715.7 L64.3 715.0 L63.3 714.2 L62.3 713.3 L61.3 713.2 L60.3 714.1Z" fill="#191919" filter="url(#eb)"/><rect x="62.3" y="692.81" width="104.2" height="0.85" fill="#777" opacity="0.5"/><rect x="62.3" y="697.89" width="104.2" height="0.85" fill="#666" opacity="0.5"/><path d="M60.3 723.4 L61.3 723.5 L62.3 723.5 L63.3 723.3 L64.3 723.0 L65.3 722.5 L66.3 722.1 L67.3 721.6 L68.3 721.3 L69.3 721.0 L70.3 720.9 L71.3 721.0 L72.3 721.2 L73.3 721.6 L74.3 722.0 L75.3 722.5 L76.3 722.9 L77.3 723.3 L78.3 723.5 L79.3 723.5 L80.3 723.4 L81.3 723.1 L82.3 722.7 L83.3 722.2 L84.3 721.8 L85.3 721.4 L86.3 721.1 L87.3 720.9 L88.3 720.9 L89.3 721.1 L90.3 721.4 L91.3 721.9 L92.3 722.3 L93.3 722.8 L94.3 723.2 L95.3 723.4 L96.3 723.5 L97.3 723.4 L98.3 723.2 L99.3 722.9 L100.3 722.4 L101.3 722.0 L102.3 721.5 L103.3 721.2 L104.3 721.0 L105.3 720.9 L106.3 721.0 L107.3 721.3 L108.3 721.7 L109.3 722.2 L110.3 722.6 L111.3 723.0 L112.3 723.3 L113.3 723.5 L114.3 723.5 L115.3 723.3 L116.3 723.0 L117.3 722.6 L118.3 722.1 L119.3 721.7 L120.3 721.3 L121.3 721.0 L122.3 720.9 L123.3 721.0 L124.3 721.2 L125.3 721.5 L126.3 722.0 L127.3 722.5 L128.3 722.9 L129.3 723.2 L130.3 723.5 L131.3 723.5 L132.3 723.4 L133.3 723.1 L134.3 722.7 L135.3 722.3 L136.3 721.8 L137.3 721.4 L138.3 721.1 L139.3 720.9 L140.3 720.9 L141.3 721.1 L142.3 721.4 L143.3 721.8 L144.3 722.3 L145.3 722.7 L146.3 723.1 L147.3 723.4 L148.3 723.5 L149.3 723.5 L150.3 723.2 L151.3 722.9 L152.3 722.5 L153.3 722.0 L154.3 721.6 L155.3 721.2 L156.3 721.0 L157.3 720.9 L158.3 721.0 L159.3 721.3 L160.3 721.7 L161.3 722.1 L162.3 722.6 L163.3 723.0 L164.3 723.3 L165.3 723.5 L166.3 723.5 L167.3 723.3 L168.3 723.0" fill="none" stroke="#e4e4e4" stroke-width="3.38" filter="url(#eb)" opacity="1"/><rect x="62.3" y="685.2" width="104.2" height="42.3" filter="url(#en6)" opacity="0.3"/></g>
<clipPath id="ec7"><rect x="169.8" y="684" width="104.7" height="43.2"/></clipPath><g clip-path="url(#ec7)"><rect x="169.8" y="684" width="104.7" height="43.2" fill="url(#eg7)"/><rect x="169.8" y="684" width="104.7" height="43.2" filter="url(#en7)" opacity="0.25"/></g>
<rect x="61.80" y="762.80" width="17.80" height="68.80" fill="#fff" stroke="#dc2424" stroke-width="1.2"/>
<rect x="91.40" y="790.80" width="17.50" height="40.80" fill="#fff" stroke="#1a1a8c" stroke-width="1.2"/>
<rect x="120.90" y="771.50" width="17.60" height="60.10" fill="#fff" stroke="#a020c8" stroke-width="1.2"/>
<rect x="150.20" y="811.10" width="17.80" height="20.50" fill="#fff" stroke="#000" stroke-width="1.2"/>
<line x1="51.20" y1="745.75" x2="51.20" y2="832.25" stroke="#000" stroke-width="1.3"/>
<line x1="47.20" y1="831.60" x2="180.50" y2="831.60" stroke="#000" stroke-width="1.3"/>
<line x1="47.60" y1="746.40" x2="51.20" y2="746.40" stroke="#000" stroke-width="1.3"/>
<text x="46.6" y="748.56" font-size="6" text-anchor="end" font-weight="bold" fill="#000">100</text>
<line x1="47.60" y1="763.50" x2="51.20" y2="763.50" stroke="#000" stroke-width="1.3"/>
<text x="46.6" y="765.66" font-size="6" text-anchor="end" font-weight="bold" fill="#000">80</text>
<line x1="47.60" y1="780.70" x2="51.20" y2="780.70" stroke="#000" stroke-width="1.3"/>
<text x="46.6" y="782.86" font-size="6" text-anchor="end" font-weight="bold" fill="#000">60</text>
<line x1="47.60" y1="797.60" x2="51.20" y2="797.60" stroke="#000" stroke-width="1.3"/>
<text x="46.6" y="799.76" font-size="6" text-anchor="end" font-weight="bold" fill="#000">40</text>
<line x1="47.60" y1="814.70" x2="51.20" y2="814.70" stroke="#000" stroke-width="1.3"/>
<text x="46.6" y="816.86" font-size="6" text-anchor="end" font-weight="bold" fill="#000">20</text>
<line x1="47.60" y1="831.60" x2="51.20" y2="831.60" stroke="#000" stroke-width="1.3"/>
<text x="46.6" y="833.76" font-size="6" text-anchor="end" font-weight="bold" fill="#000">0</text>
<line x1="70.70" y1="831.60" x2="70.70" y2="835.60" stroke="#000" stroke-width="1.3"/>
<line x1="70.80" y1="759.80" x2="70.80" y2="765.00" stroke="#d43a3a" stroke-width="0.85"/>
<line x1="66.20" y1="759.80" x2="75.40" y2="759.80" stroke="#d43a3a" stroke-width="0.85"/>
<line x1="66.20" y1="765.00" x2="75.40" y2="765.00" stroke="#d43a3a" stroke-width="0.85"/>
<circle cx="62.50" cy="758.50" r="1.60" fill="#cf1818"/>
<circle cx="78.90" cy="758.50" r="1.60" fill="#cf1818"/>
<circle cx="67.80" cy="763.00" r="1.60" fill="#cf1818"/>
<circle cx="74.40" cy="763.00" r="1.60" fill="#cf1818"/>
<circle cx="71.00" cy="769.60" r="1.60" fill="#cf1818"/>
<text x="75.1" y="845.4" font-size="10" text-anchor="end" font-weight="normal" fill="#111" transform="rotate(-45 75.1 845.4)">Sham</text>
<line x1="100.15" y1="831.60" x2="100.15" y2="835.60" stroke="#000" stroke-width="1.3"/>
<line x1="100.00" y1="786.80" x2="100.00" y2="793.50" stroke="#1a1a8c" stroke-width="0.85"/>
<line x1="95.40" y1="786.80" x2="104.60" y2="786.80" stroke="#1a1a8c" stroke-width="0.85"/>
<line x1="95.40" y1="793.50" x2="104.60" y2="793.50" stroke="#1a1a8c" stroke-width="0.85"/>
<rect x="98.40" y="783.00" width="3.20" height="3.20" fill="#000"/>
<rect x="95.20" y="791.00" width="3.20" height="3.20" fill="#000"/>
<rect x="101.80" y="791.00" width="3.20" height="3.20" fill="#000"/>
<text x="104.55000000000001" y="845.4" font-size="10" text-anchor="end" font-weight="normal" fill="#111" transform="rotate(-45 104.55000000000001 845.4)">MI</text>
<line x1="129.70" y1="831.60" x2="129.70" y2="835.60" stroke="#000" stroke-width="1.3"/>
<line x1="129.80" y1="768.30" x2="129.80" y2="774.30" stroke="#a020c8" stroke-width="0.85"/>
<line x1="124.60" y1="768.30" x2="135.00" y2="768.30" stroke="#a020c8" stroke-width="0.85"/>
<line x1="124.60" y1="774.30" x2="135.00" y2="774.30" stroke="#a020c8" stroke-width="0.85"/>
<path d="M129.80 760.40L131.53 763.55L128.08 763.55Z" fill="#a020c8"/>
<path d="M121.90 769.10L123.62 772.25L120.18 772.25Z" fill="#a020c8"/>
<path d="M125.90 769.60L127.62 772.75L124.18 772.75Z" fill="#a020c8"/>
<path d="M132.50 768.30L134.22 771.45L130.78 771.45Z" fill="#a020c8"/>
<path d="M137.00 768.30L138.72 771.45L135.28 771.45Z" fill="#a020c8"/>
<path d="M127.20 776.50L128.93 779.65L125.48 779.65Z" fill="#a020c8"/>
<path d="M133.30 775.20L135.03 778.35L131.58 778.35Z" fill="#a020c8"/>
<text x="134.1" y="845.4" font-size="10" text-anchor="end" font-weight="normal" fill="#111" transform="rotate(-45 134.1 845.4)">+GDF11</text>
<line x1="159.10" y1="831.60" x2="159.10" y2="835.60" stroke="#000" stroke-width="1.3"/>
<line x1="159.20" y1="807.50" x2="159.20" y2="813.00" stroke="#000" stroke-width="0.85"/>
<line x1="154.60" y1="807.50" x2="163.80" y2="807.50" stroke="#000" stroke-width="0.85"/>
<line x1="154.60" y1="813.00" x2="163.80" y2="813.00" stroke="#000" stroke-width="0.85"/>
<path d="M156.20 810.20L157.92 807.05L154.47 807.05Z" fill="#000"/>
<path d="M162.30 811.00L164.03 807.85L160.58 807.85Z" fill="#000"/>
<path d="M157.60 814.20L159.32 811.05L155.88 811.05Z" fill="#000"/>
<text x="163.5" y="845.4" font-size="10" text-anchor="end" font-weight="normal" fill="#111" transform="rotate(-45 163.5 845.4)">+GDF11+CLs</text>
<text x="31.6" y="788.7" font-size="9.7" text-anchor="middle" font-weight="normal" fill="#111" transform="rotate(-90 31.6 788.7)">EF (%)</text>
<line x1="70.40" y1="752.40" x2="100.00" y2="752.40" stroke="#000" stroke-width="1.1"/>
<line x1="70.40" y1="749.00" x2="70.40" y2="755.80" stroke="#000" stroke-width="1.1"/>
<line x1="100.00" y1="749.00" x2="100.00" y2="755.80" stroke="#000" stroke-width="1.1"/>
<text x="85.2" y="755.556" font-size="12.6" text-anchor="middle" font-weight="normal" fill="#000">***</text>
<line x1="100.00" y1="743.20" x2="130.60" y2="743.20" stroke="#000" stroke-width="1.1"/>
<line x1="100.00" y1="739.80" x2="100.00" y2="746.60" stroke="#000" stroke-width="1.1"/>
<line x1="130.60" y1="739.80" x2="130.60" y2="746.60" stroke="#000" stroke-width="1.1"/>
<text x="115.3" y="746.2560000000001" font-size="12.6" text-anchor="middle" font-weight="normal" fill="#000">***</text>
<line x1="130.60" y1="752.40" x2="161.00" y2="752.40" stroke="#000" stroke-width="1.1"/>
<line x1="130.60" y1="749.00" x2="130.60" y2="755.80" stroke="#000" stroke-width="1.1"/>
<line x1="161.00" y1="749.00" x2="161.00" y2="755.80" stroke="#000" stroke-width="1.1"/>
<text x="145.8" y="755.556" font-size="12.6" text-anchor="middle" font-weight="normal" fill="#000">***</text>
<rect x="211.00" y="764.90" width="18.10" height="63.80" fill="#fff" stroke="#dc2424" stroke-width="1.2"/>
<rect x="240.30" y="800.00" width="17.80" height="28.70" fill="#fff" stroke="#1a1a8c" stroke-width="1.2"/>
<rect x="269.90" y="779.40" width="17.80" height="49.30" fill="#fff" stroke="#a020c8" stroke-width="1.2"/>
<rect x="298.90" y="815.90" width="18.10" height="12.80" fill="#fff" stroke="#000" stroke-width="1.2"/>
<line x1="200.20" y1="742.55" x2="200.20" y2="829.35" stroke="#000" stroke-width="1.3"/>
<line x1="195.80" y1="828.70" x2="328.30" y2="828.70" stroke="#000" stroke-width="1.3"/>
<line x1="196.60" y1="743.20" x2="200.20" y2="743.20" stroke="#000" stroke-width="1.3"/>
<text x="195.6" y="745.36" font-size="6" text-anchor="end" font-weight="bold" fill="#000">60</text>
<line x1="196.60" y1="772.20" x2="200.20" y2="772.20" stroke="#000" stroke-width="1.3"/>
<text x="195.6" y="774.36" font-size="6" text-anchor="end" font-weight="bold" fill="#000">40</text>
<line x1="196.60" y1="800.80" x2="200.20" y2="800.80" stroke="#000" stroke-width="1.3"/>
<text x="195.6" y="802.9599999999999" font-size="6" text-anchor="end" font-weight="bold" fill="#000">20</text>
<line x1="196.60" y1="828.70" x2="200.20" y2="828.70" stroke="#000" stroke-width="1.3"/>
<text x="195.6" y="830.86" font-size="6" text-anchor="end" font-weight="bold" fill="#000">0</text>
<line x1="220.05" y1="828.70" x2="220.05" y2="832.70" stroke="#000" stroke-width="1.3"/>
<line x1="219.90" y1="758.20" x2="219.90" y2="769.60" stroke="#d43a3a" stroke-width="0.85"/>
<line x1="215.30" y1="758.20" x2="224.50" y2="758.20" stroke="#d43a3a" stroke-width="0.85"/>
<line x1="215.30" y1="769.60" x2="224.50" y2="769.60" stroke="#d43a3a" stroke-width="0.85"/>
<circle cx="219.60" cy="753.20" r="1.60" fill="#cf1818"/>
<circle cx="219.60" cy="757.70" r="1.60" fill="#cf1818"/>
<circle cx="219.60" cy="769.60" r="1.60" fill="#cf1818"/>
<circle cx="219.60" cy="777.50" r="1.60" fill="#cf1818"/>
<text x="224.45000000000002" y="844.0" font-size="10" text-anchor="end" font-weight="normal" fill="#111" transform="rotate(-45 224.45000000000002 844.0)">Sham</text>
<line x1="249.20" y1="828.70" x2="249.20" y2="832.70" stroke="#000" stroke-width="1.3"/>
<line x1="249.20" y1="796.50" x2="249.20" y2="802.50" stroke="#2a2ab8" stroke-width="0.85"/>
<line x1="244.60" y1="796.50" x2="253.80" y2="796.50" stroke="#2a2ab8" stroke-width="0.85"/>
<line x1="244.60" y1="802.50" x2="253.80" y2="802.50" stroke="#2a2ab8" stroke-width="0.85"/>
<rect x="247.60" y="791.80" width="3.20" height="3.20" fill="#2222cc"/>
<rect x="244.40" y="799.70" width="3.20" height="3.20" fill="#2222cc"/>
<rect x="251.30" y="799.10" width="3.20" height="3.20" fill="#2222cc"/>
<text x="253.60000000000002" y="844.0" font-size="10" text-anchor="end" font-weight="normal" fill="#111" transform="rotate(-45 253.60000000000002 844.0)">MI</text>
<line x1="278.80" y1="828.70" x2="278.80" y2="832.70" stroke="#000" stroke-width="1.3"/>
<line x1="278.80" y1="774.40" x2="278.80" y2="784.10" stroke="#a020c8" stroke-width="0.85"/>
<line x1="273.60" y1="774.40" x2="284.00" y2="774.40" stroke="#a020c8" stroke-width="0.85"/>
<line x1="273.60" y1="784.10" x2="284.00" y2="784.10" stroke="#a020c8" stroke-width="0.85"/>
<path d="M279.00 754.10L280.73 757.25L277.27 757.25Z" fill="#a020c8"/>
<path d="M271.40 777.80L273.12 780.95L269.67 780.95Z" fill="#a020c8"/>
<path d="M275.90 779.70L277.62 782.85L274.17 782.85Z" fill="#a020c8"/>
<path d="M281.20 778.40L282.93 781.55L279.47 781.55Z" fill="#a020c8"/>
<path d="M286.40 780.50L288.12 783.65L284.67 783.65Z" fill="#a020c8"/>
<path d="M278.50 789.40L280.23 792.55L276.77 792.55Z" fill="#a020c8"/>
<text x="283.19999999999993" y="844.0" font-size="10" text-anchor="end" font-weight="normal" fill="#111" transform="rotate(-45 283.19999999999993 844.0)">+GDF11</text>
<line x1="307.95" y1="828.70" x2="307.95" y2="832.70" stroke="#000" stroke-width="1.3"/>
<line x1="308.10" y1="813.60" x2="308.10" y2="816.80" stroke="#000" stroke-width="0.85"/>
<line x1="303.50" y1="813.60" x2="312.70" y2="813.60" stroke="#000" stroke-width="0.85"/>
<line x1="303.50" y1="816.80" x2="312.70" y2="816.80" stroke="#000" stroke-width="0.85"/>
<path d="M300.20 818.10L301.93 814.95L298.47 814.95Z" fill="#000"/>
<path d="M308.10 815.70L309.83 812.55L306.38 812.55Z" fill="#000"/>
<path d="M316.00 816.80L317.73 813.65L314.27 813.65Z" fill="#000"/>
<text x="312.34999999999997" y="844.0" font-size="10" text-anchor="end" font-weight="normal" fill="#111" transform="rotate(-45 312.34999999999997 844.0)">+GDF11+CLs</text>
<text x="184.2" y="786.1" font-size="9.7" text-anchor="middle" font-weight="normal" fill="#111" transform="rotate(-90 184.2 786.1)">FS (%)</text>
<line x1="221.80" y1="746.40" x2="248.70" y2="746.40" stroke="#000" stroke-width="1.1"/>
<line x1="221.80" y1="743.00" x2="221.80" y2="749.80" stroke="#000" stroke-width="1.1"/>
<line x1="248.70" y1="743.00" x2="248.70" y2="749.80" stroke="#000" stroke-width="1.1"/>
<text x="235.25" y="749.456" font-size="12.6" text-anchor="middle" font-weight="normal" fill="#000">**</text>
<line x1="248.70" y1="735.30" x2="277.70" y2="735.30" stroke="#000" stroke-width="1.1"/>
<line x1="248.70" y1="731.90" x2="248.70" y2="738.70" stroke="#000" stroke-width="1.1"/>
<line x1="277.70" y1="731.90" x2="277.70" y2="738.70" stroke="#000" stroke-width="1.1"/>
<text x="263.2" y="739.156" font-size="12.6" text-anchor="middle" font-weight="normal" fill="#000">*</text>
<line x1="277.70" y1="745.30" x2="308.10" y2="745.30" stroke="#000" stroke-width="1.1"/>
<line x1="277.70" y1="741.90" x2="277.70" y2="748.70" stroke="#000" stroke-width="1.1"/>
<line x1="308.10" y1="741.90" x2="308.10" y2="748.70" stroke="#000" stroke-width="1.1"/>
<text x="292.9" y="748.156" font-size="12.6" text-anchor="middle" font-weight="normal" fill="#000">***</text>
<g transform="translate(388.4 702.3)" filter="url(#hd)"><ellipse cx="0" cy="0" rx="28.8" ry="26.6" fill="url(#hr1)"/><ellipse rx="28" ry="26" fill="#fff" filter="url(#hs)" opacity="0.66"/><ellipse rx="28" ry="26" fill="#fff" filter="url(#ht)" opacity="0.59"/><path d="M-7 -4 L-3 -1 L0 -5 L2 -1 L6 -2 L1 2 L0 8 L-2 2Z" fill="#fff"/><ellipse cx="-30" cy="6" rx="3" ry="2" fill="#d8603a"/></g><g transform="translate(387.1 766.3)" filter="url(#hd)"><ellipse cx="0" cy="0" rx="23.4" ry="24.3" fill="url(#hr1)"/><ellipse rx="23" ry="24" fill="#fff" filter="url(#hs)" opacity="0.57"/><ellipse rx="23" ry="24" fill="#fff" filter="url(#ht)" opacity="0.51"/><path d="M-1.5 -11 Q1.5 0 -1 11 Q-3.5 0 -1.5 -11Z" fill="#fff"/></g><g transform="translate(389.7 820.9)" filter="url(#hd)"><ellipse cx="0" cy="0" rx="17.9" ry="16.3" fill="#b02a1d"/><ellipse rx="17" ry="16" fill="#fff" filter="url(#hs)" opacity="0.57"/><ellipse rx="17" ry="16" fill="#fff" filter="url(#ht)" opacity="0.51"/><path d="M-0.5 -4 L0.6 0 L-0.4 4Z" fill="#f6d8c8"/></g><g transform="translate(385.9 863.6)" filter="url(#hd)"><path d="M-9 -12 Q0 -16 5 -9 Q6 -2 11 3 Q13 11 4 13 Q-4 15 -8 7 Q-14 -2 -9 -12Z" fill="#c8543a"/><ellipse cx="1" cy="2" rx="4" ry="4" fill="#f2ddd2" filter="url(#hb1)"/><ellipse cx="-6" cy="-5" rx="3" ry="3.5" fill="#f0d6c8" filter="url(#hb1)"/><ellipse cx="6" cy="9" rx="3.5" ry="3" fill="#f2e0d6" filter="url(#hb1)"/></g><g transform="translate(449.9 701)" filter="url(#hd)"><clipPath id="hc1"><ellipse cx="0" cy="0" rx="28.2" ry="27.5"/></clipPath><g clip-path="url(#hc1)"><ellipse cx="0" cy="0" rx="28.2" ry="27.5" fill="#efe2d8"/><ellipse cx="-3" cy="-10" rx="26" ry="20" fill="#9c1f1a" filter="url(#hb)" transform="rotate(-20 -3 -10)"/><ellipse cx="21" cy="-3" rx="9" ry="12" fill="#a0241c" filter="url(#hb)"/><ellipse cx="18" cy="14" rx="8" ry="8" fill="#c47a60" filter="url(#hb)"/></g><ellipse cx="3" cy="19" rx="22" ry="8" fill="#e9d9cf" filter="url(#hb)" opacity="0.9" transform="rotate(12 3 19)"/><path d="M-4 -6 Q6 -16 12 -7 Q16 4 8 9 Q3 12 -6 14 Q-10 8 -6 3 Q-2 -2 -4 -6Z" fill="#fff"/><ellipse cx="-19" cy="-19" rx="4" ry="3" fill="#f4ece6" filter="url(#hb1)"/><path d="M17 17 L27 18" stroke="#3a2a26" stroke-width="1"/></g><g transform="translate(446 758.6)" filter="url(#hd)"><clipPath id="hc2"><ellipse cx="0" cy="0" rx="24.3" ry="25"/></clipPath><g clip-path="url(#hc2)"><ellipse cx="0" cy="0" rx="24.3" ry="25" fill="#e3b39c"/><ellipse cx="5" cy="-17" rx="12" ry="9" fill="#a02a1e" filter="url(#hb)"/><ellipse cx="19" cy="-3" rx="7" ry="12" fill="#c05a3c" filter="url(#hb)"/><ellipse cx="-19" cy="-2" rx="6" ry="10" fill="#cf7a58" filter="url(#hb)"/><ellipse cx="4" cy="19" rx="16" ry="7" fill="#efe0d6" filter="url(#hb)"/></g><ellipse cx="0" cy="4" rx="11.5" ry="12.8" fill="#fff"/><ellipse cx="-15" cy="-12" rx="3" ry="2.5" fill="#fff"/></g><g transform="translate(449.9 820)" filter="url(#hd)"><clipPath id="hc3"><ellipse cx="0" cy="0" rx="19.9" ry="22"/></clipPath><g clip-path="url(#hc3)"><ellipse cx="0" cy="0" rx="19.9" ry="22" fill="#d99676"/><ellipse cx="-4" cy="-13" rx="10" ry="8" fill="#b8482c" filter="url(#hb)"/><ellipse cx="-15" cy="2" rx="6" ry="9" fill="#c86a48" filter="url(#hb)"/><ellipse cx="12" cy="6" rx="9" ry="9" fill="#f0e0d6" filter="url(#hb)"/><ellipse cx="-2" cy="18" rx="8" ry="5" fill="#f2e6dc" filter="url(#hb)"/></g><ellipse cx="-5" cy="0" rx="9" ry="5" fill="#fff" transform="rotate(-8 -5 0)"/></g><g transform="translate(445.5 868.8)" filter="url(#hd)"><path d="M-13 2 Q-8 -7 0 -10 Q10 -9 13 0 Q12 8 3 9 Q-8 10 -13 2Z" fill="#8f1a19"/><ellipse cx="-1" cy="7" rx="6" ry="1.8" fill="#e2b8a4" filter="url(#hb1)"/></g><g transform="translate(515.3 703.5)" filter="url(#hd)"><clipPath id="hc4"><ellipse cx="0" cy="0" rx="29.5" ry="29"/></clipPath><g clip-path="url(#hc4)"><ellipse cx="0" cy="0" rx="29.5" ry="29" fill="#a3221c"/><ellipse cx="-14" cy="19" rx="14" ry="9" fill="#e6bfb0" filter="url(#hb)"/><ellipse cx="-26" cy="4" rx="8" ry="10" fill="#c45a44" filter="url(#hb)"/><ellipse cx="6" cy="25" rx="12" ry="5" fill="#dca392" filter="url(#hb)"/></g><ellipse rx="28" ry="27" fill="#fff" filter="url(#hs)" opacity="0.47"/><ellipse rx="28" ry="27" fill="#fff" filter="url(#ht)" opacity="0.42"/><path d="M-17 11 Q-6 8 0 2 Q6 -3 11 1 Q9 10 2 14 Q-8 15 -17 11Z" fill="#fff"/></g><g transform="translate(514 766.3)" filter="url(#hd)"><clipPath id="hc5"><ellipse cx="0" cy="0" rx="25.6" ry="25.6"/></clipPath><g clip-path="url(#hc5)"><ellipse cx="0" cy="0" rx="25.6" ry="25.6" fill="#9f2520"/><ellipse cx="10" cy="18" rx="13" ry="8" fill="#ecd5ca" filter="url(#hb)"/><ellipse cx="-14" cy="19" rx="9" ry="9" fill="#e2b4a6" filter="url(#hb)"/><ellipse cx="-23" cy="4" rx="5" ry="8" fill="#d28a78" filter="url(#hb)"/></g><ellipse rx="24" ry="24" fill="#fff" filter="url(#hs)" opacity="0.47"/><ellipse rx="24" ry="24" fill="#fff" filter="url(#ht)" opacity="0.42"/><path d="M-9 2 Q0 0 6 5 Q12 8 8 13 Q0 15 -3 9 Q-8 8 -9 2Z" fill="#fff"/></g><g transform="translate(511.5 825.2)" filter="url(#hd)"><clipPath id="hc6"><ellipse cx="0" cy="0" rx="21.1" ry="20.1"/></clipPath><g clip-path="url(#hc6)"><ellipse cx="0" cy="0" rx="21.1" ry="20.1" fill="#b42e20"/><ellipse cx="7" cy="16" rx="9" ry="6" fill="#e6c2b2" filter="url(#hb)"/><ellipse cx="-15" cy="8" rx="6" ry="6" fill="#d07a5c" filter="url(#hb)"/></g><ellipse rx="20" ry="19" fill="#fff" filter="url(#hs)" opacity="0.57"/><ellipse rx="20" ry="19" fill="#fff" filter="url(#ht)" opacity="0.51"/><path d="M-7 9 Q0 3 5 2 Q3 8 -2 10Z" fill="#fbeee6"/></g><g transform="translate(510.2 869.5)" filter="url(#hd)"><path d="M-14 8 Q-9 -6 -2 -12 Q4 -13 8 -5 Q13 3 14 9 Q5 14 -4 13 Q-11 13 -14 8Z" fill="#cc6044"/><ellipse cx="0" cy="0" rx="5" ry="7" fill="#c04a30" filter="url(#hb)"/><ellipse cx="-10" cy="8" rx="5" ry="4" fill="#eccabb" filter="url(#hb1)"/><ellipse cx="10" cy="8" rx="4" ry="3" fill="#eccabb" filter="url(#hb1)"/></g><g transform="translate(580.6 698.4)" filter="url(#hd)"><clipPath id="hc7"><ellipse cx="0" cy="0" rx="26.3" ry="26.3"/></clipPath><g clip-path="url(#hc7)"><ellipse cx="0" cy="0" rx="26.3" ry="26.3" fill="#eae1d9"/><ellipse rx="25.3" ry="25.3" fill="none" stroke="#d2c2b4" stroke-width="2.5" filter="url(#hb1)"/><path d="M-20 -7 Q-13 -23 3 -23.5 Q19 -21 21.5 -5 Q20 6 13 9 L-1 -6 Q-7 -8 -11 1 Q-17 0 -20 -7Z" fill="#ab2619" filter="url(#hb1)"/><ellipse cx="23" cy="-9" rx="4" ry="7" fill="#d8a488" filter="url(#hb)"/></g><path d="M-9 -5 L-3 -8 L3 -1 L9 4 L14 11 L6 13 L0 6 L-5 4Z" fill="#fff"/><ellipse cx="-24" cy="1.5" rx="2" ry="1.6" fill="#222"/><path d="M-29 0.5 L-24 1.5" stroke="#333" stroke-width=".8"/></g><g transform="translate(584.5 760.7)" filter="url(#hd)"><clipPath id="hc8"><ellipse cx="0" cy="0" rx="22.4" ry="23.7"/></clipPath><g clip-path="url(#hc8)"><ellipse cx="0" cy="0" rx="22.4" ry="23.7" fill="#e9dfd6"/><ellipse rx="21.4" ry="22.7" fill="none" stroke="#d0c0b2" stroke-width="2.5" filter="url(#hb1)"/><path d="M-15 -9 Q-9 -19.5 3 -19 Q13 -16 13.5 -4 Q12 8 8 15 L1 -2 Q-4 -6 -8 3 Q-14 -2 -15 -9Z" fill="#a8241a" filter="url(#hb1)"/><ellipse cx="-20" cy="-3" rx="3.5" ry="8" fill="#dcae98" filter="url(#hb)"/></g><path d="M-6 0 L-1 -3 L4 6 L8 14 L2 15 L-3 8Z" fill="#fff"/></g><g transform="translate(584.8 817.8)" filter="url(#hd)"><clipPath id="hc9"><ellipse cx="0" cy="0" rx="16.8" ry="21.8"/></clipPath><g clip-path="url(#hc9)"><ellipse cx="0" cy="0" rx="16.8" ry="21.8" fill="#e6e1da"/><ellipse rx="15.8" ry="20.8" fill="none" stroke="#cfc5ba" stroke-width="2.5" filter="url(#hb1)"/><ellipse cx="-2" cy="-13" rx="13" ry="9" fill="#d58c62" filter="url(#hb)"/><ellipse cx="0" cy="-10" rx="5.5" ry="6.5" fill="#b5301f" filter="url(#hb1)"/></g><ellipse cx="2" cy="8" rx="11" ry="8" fill="#f3f1ed" filter="url(#hb1)"/></g><g transform="translate(584.1 869.5)" filter="url(#hd)"><ellipse cx="0" cy="0" rx="10.9" ry="11.4" fill="#eeebe2"/><ellipse cx="0" cy="-2" rx="6.5" ry="5.5" fill="#d07838" filter="url(#hb1)"/><ellipse cx="0" cy="-2" rx="3" ry="2.5" fill="#c86428" filter="url(#hb1)"/></g>
<rect x="353.7" y="618" width="261.4" height="269.4" fill="none" stroke="#000" stroke-width="1.6"/>
<line x1="353.70" y1="660.20" x2="615.10" y2="660.20" stroke="#000" stroke-width="1.5"/>
<line x1="419.2" y1="618.5" x2="419.2" y2="887" stroke="#000" stroke-width="1.45" stroke-dasharray="4 1.6"/>
<line x1="484" y1="618.5" x2="484" y2="887" stroke="#000" stroke-width="1.45" stroke-dasharray="4 1.6"/>
<line x1="548.5" y1="618.5" x2="548.5" y2="887" stroke="#000" stroke-width="1.45" stroke-dasharray="4 1.6"/>
<text x="387" y="643.4" font-size="12" text-anchor="middle" font-weight="normal" fill="#111">Sham</text>
<text x="450.8" y="643.4" font-size="12" text-anchor="middle" font-weight="normal" fill="#111">MI</text>
<text x="519" y="636.4" font-size="11.8" text-anchor="middle" font-weight="normal" fill="#111">MI</text>
<text x="519" y="650.9" font-size="11.8" text-anchor="middle" font-weight="normal" fill="#111">+GDF11</text>
<text x="581.7" y="629" font-size="11.8" text-anchor="middle" font-weight="normal" fill="#111">MI</text>
<text x="582.1" y="643.7" font-size="11.8" text-anchor="middle" font-weight="normal" fill="#111">+CLs</text>
<text x="581.5" y="658.6" font-size="11.8" text-anchor="middle" font-weight="normal" fill="#111">+GDF11</text>
<line x1="596.30" y1="881.60" x2="610.50" y2="881.60" stroke="#000" stroke-width="1.4"/>
</svg>
</body></html>
